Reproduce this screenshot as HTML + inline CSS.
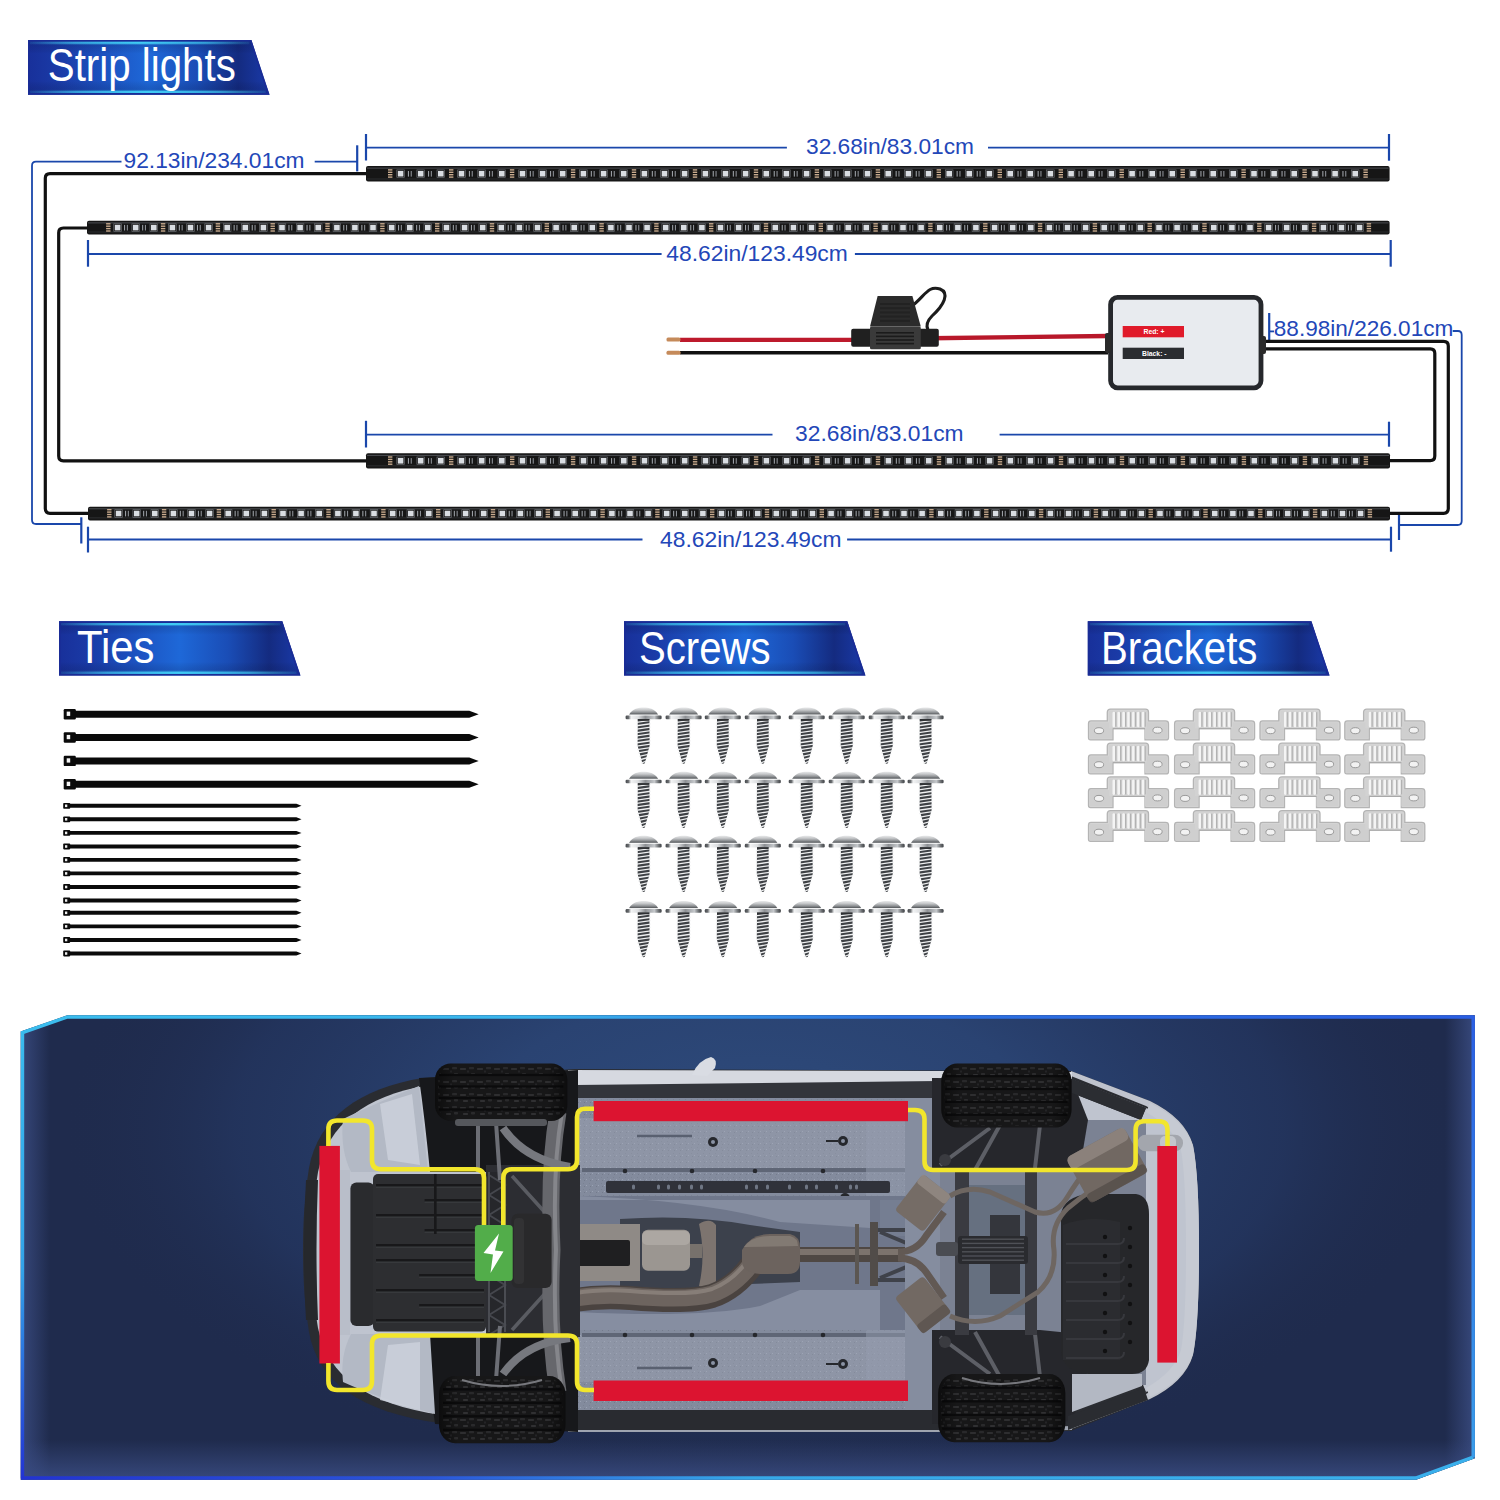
<!DOCTYPE html>
<html><head><meta charset="utf-8">
<style>
html,body{margin:0;padding:0;background:#fff;width:1500px;height:1500px;overflow:hidden}
svg{display:block;font-family:"Liberation Sans",sans-serif}
</style></head><body>
<svg width="1500" height="1500" viewBox="0 0 1500 1500">
<defs>
  <linearGradient id="banH" x1="0" y1="0" x2="1" y2="0">
    <stop offset="0" stop-color="#18309a"/>
    <stop offset="0.12" stop-color="#1a3aa6"/>
    <stop offset="0.5" stop-color="#1e68d8"/>
    <stop offset="0.7" stop-color="#1a4db6"/>
    <stop offset="0.87" stop-color="#142b80"/>
    <stop offset="1" stop-color="#1a3aaa"/>
  </linearGradient>
  <linearGradient id="banGlow" x1="0" y1="0" x2="1" y2="0">
    <stop offset="0" stop-color="#40ccf4" stop-opacity="0.1"/>
    <stop offset="0.2" stop-color="#40ccf4" stop-opacity="0.6"/>
    <stop offset="0.5" stop-color="#40ccf4" stop-opacity="1"/>
    <stop offset="0.8" stop-color="#40ccf4" stop-opacity="0.6"/>
    <stop offset="1" stop-color="#40ccf4" stop-opacity="0.1"/>
  </linearGradient>
  <linearGradient id="banV" x1="0" y1="0" x2="0" y2="1">
    <stop offset="0" stop-color="#0a1a60" stop-opacity="0.25"/>
    <stop offset="0.25" stop-color="#000" stop-opacity="0"/>
    <stop offset="0.75" stop-color="#000" stop-opacity="0"/>
    <stop offset="1" stop-color="#0a1a60" stop-opacity="0.25"/>
  </linearGradient>

  <linearGradient id="domeG" x1="0" y1="0" x2="0" y2="1">
    <stop offset="0" stop-color="#e8e9ea"/><stop offset="0.35" stop-color="#c4c6c8"/><stop offset="0.7" stop-color="#8a8d90"/><stop offset="0.9" stop-color="#5f6265"/><stop offset="1" stop-color="#b8bbbe"/>
  </linearGradient>
  <linearGradient id="flG" x1="0" y1="0" x2="1" y2="0">
    <stop offset="0" stop-color="#45484c"/><stop offset="0.08" stop-color="#6a6d70"/><stop offset="0.15" stop-color="#f2f3f4"/><stop offset="0.35" stop-color="#dcdee0"/><stop offset="0.55" stop-color="#8d9094"/><stop offset="0.8" stop-color="#c5c8cb"/><stop offset="0.92" stop-color="#6a6d70"/><stop offset="1" stop-color="#3f4246"/>
  </linearGradient>

  <radialGradient id="panRad" cx="760" cy="1150" r="720" gradientUnits="userSpaceOnUse" gradientTransform="translate(760 1150) scale(1 0.55) translate(-760 -1150)">
    <stop offset="0" stop-color="#2e4c7e"/>
    <stop offset="0.45" stop-color="#2a4372"/>
    <stop offset="0.8" stop-color="#213259"/>
    <stop offset="1" stop-color="#1e2949" stop-opacity="0"/>
  </radialGradient>
  <clipPath id="panClip"><polygon points="20.8,1031.5 67.2,1015.3 1474.8,1015.3 1474.8,1458.3 1416,1479.8 20.8,1479.8"/></clipPath>
  <filter id="blur12" x="-10%" y="-10%" width="120%" height="120%"><feGaussianBlur stdDeviation="12"/></filter>
  <filter id="blur2" x="-10%" y="-10%" width="120%" height="120%"><feGaussianBlur stdDeviation="2"/></filter>
  <filter id="blur1"><feGaussianBlur stdDeviation="0.8"/></filter>
  <linearGradient id="bodyG" x1="0" y1="0" x2="0" y2="1">
    <stop offset="0" stop-color="#e6e9ef"/><stop offset="0.5" stop-color="#c9ced8"/><stop offset="1" stop-color="#b7bcc8"/>
  </linearGradient>
  <linearGradient id="tireG" x1="0" y1="0" x2="0" y2="1">
    <stop offset="0" stop-color="#2a2a2c"/><stop offset="0.5" stop-color="#1a1a1b"/><stop offset="1" stop-color="#222224"/>
  </linearGradient>
  <pattern id="tread" width="9" height="7" patternUnits="userSpaceOnUse">
    <rect width="9" height="7" fill="#1b1b1c"/>
    <rect x="0" y="0" width="9" height="1.3" fill="#0c0c0c"/>
    <rect x="2" y="2.5" width="3" height="2" fill="#333336"/>
    <rect x="6" y="4.2" width="2" height="1.5" fill="#2a2a2d"/>
  </pattern>
  <pattern id="speck" width="6" height="6" patternUnits="userSpaceOnUse">
    <rect width="6" height="6" fill="#838b9d"/>
    <rect x="1" y="1" width="1" height="1" fill="#7a8293"/>
    <rect x="4" y="3" width="1" height="1" fill="#9aa2b3"/>
    <rect x="2" y="4" width="1" height="1" fill="#747b8c"/>
  </pattern>
  <linearGradient id="pipeG" x1="0" y1="0" x2="0" y2="1">
    <stop offset="0" stop-color="#8a817b"/><stop offset="0.5" stop-color="#6c635e"/><stop offset="1" stop-color="#4c4542"/>
  </linearGradient>

  <pattern id="treadTex" width="17" height="13" patternUnits="userSpaceOnUse">
    <rect x="1" y="2" width="6" height="2" rx="0.8" fill="#2e2e30"/>
    <rect x="10" y="1" width="5" height="2.2" rx="0.8" fill="#29292b"/>
    <rect x="4" y="8" width="5" height="2" rx="0.8" fill="#303032"/>
    <rect x="12" y="7" width="4" height="2.4" rx="0.8" fill="#2a2a2c"/>
    <rect x="8" y="4.5" width="2" height="2" fill="#242426"/>
  </pattern>
  <linearGradient id="tireShade" x1="0" y1="0" x2="1" y2="0">
    <stop offset="0" stop-color="#000" stop-opacity="0.45"/><stop offset="0.15" stop-color="#000" stop-opacity="0"/><stop offset="0.85" stop-color="#000" stop-opacity="0"/><stop offset="1" stop-color="#000" stop-opacity="0.45"/>
  </linearGradient>

  <radialGradient id="panRad2" cx="760" cy="1130" r="700" gradientUnits="userSpaceOnUse" gradientTransform="translate(760 1130) scale(1 0.5) translate(-760 -1130)">
    <stop offset="0" stop-color="#2e4b7c"/>
    <stop offset="0.4" stop-color="#2a4372"/>
    <stop offset="0.75" stop-color="#243762" stop-opacity="0.7"/>
    <stop offset="1" stop-color="#1f2b4d" stop-opacity="0"/>
  </radialGradient>
  <linearGradient id="glowL" x1="0" y1="0" x2="1" y2="0"><stop offset="0" stop-color="#3a4c82" stop-opacity="0.9"/><stop offset="1" stop-color="#3a4c82" stop-opacity="0"/></linearGradient>
  <linearGradient id="glowR" x1="1" y1="0" x2="0" y2="0"><stop offset="0" stop-color="#3a4c82" stop-opacity="0.9"/><stop offset="1" stop-color="#3a4c82" stop-opacity="0"/></linearGradient>
  <linearGradient id="glowB" x1="0" y1="1" x2="0" y2="0"><stop offset="0" stop-color="#3a4c82" stop-opacity="0.9"/><stop offset="1" stop-color="#3a4c82" stop-opacity="0"/></linearGradient>
  <linearGradient id="bTop" x1="20" y1="0" x2="1475" y2="0" gradientUnits="userSpaceOnUse"><stop offset="0" stop-color="#3bbdee"/><stop offset="0.35" stop-color="#3ab5ec"/><stop offset="0.6" stop-color="#2d72e0"/><stop offset="1" stop-color="#2a5ee2"/></linearGradient>
  <linearGradient id="bLeft" x1="0" y1="1015" x2="0" y2="1480" gradientUnits="userSpaceOnUse"><stop offset="0" stop-color="#3bbdee"/><stop offset="0.55" stop-color="#33a2e8"/><stop offset="1" stop-color="#2233d2"/></linearGradient>
  <linearGradient id="bBot" x1="20" y1="0" x2="1475" y2="0" gradientUnits="userSpaceOnUse"><stop offset="0" stop-color="#2233d2"/><stop offset="0.28" stop-color="#2a55da"/><stop offset="0.5" stop-color="#36a8e8"/><stop offset="1" stop-color="#3ab0ec"/></linearGradient>
  <linearGradient id="bRight" x1="0" y1="1015" x2="0" y2="1480" gradientUnits="userSpaceOnUse"><stop offset="0" stop-color="#2a5ee2"/><stop offset="1" stop-color="#3aa0ea"/></linearGradient>
<symbol id="screw" overflow="visible">
<path d="M-14.6,7 C-11,0.8 -5,-0.2 0,-0.2 C5,-0.2 11,0.8 14.6,7 Z" fill="url(#domeG)"/>
<rect x="-18" y="7.8" width="36" height="3.6" rx="1.2" fill="url(#flG)"/>
<path d="M-5.8,11.3 H5.8 L6,38 L1.2,55.5 L0,56 L-1.2,55.5 L-6,38 Z" fill="#3e4145"/>
<path d="M-7.0,13.9 L7.0,11.9 L7.0,13.2 L-7.0,15.2 Z" fill="#f0f1f2"/>
<path d="M-7.0,17.3 L7.0,15.3 L7.0,16.6 L-7.0,18.6 Z" fill="#f0f1f2"/>
<path d="M-7.0,20.7 L7.0,18.7 L7.0,20.0 L-7.0,22.0 Z" fill="#f0f1f2"/>
<path d="M-7.0,24.1 L7.0,22.1 L7.0,23.4 L-7.0,25.4 Z" fill="#f0f1f2"/>
<path d="M-7.0,27.5 L7.0,25.5 L7.0,26.8 L-7.0,28.8 Z" fill="#f0f1f2"/>
<path d="M-7.0,30.9 L7.0,28.9 L7.0,30.2 L-7.0,32.2 Z" fill="#f0f1f2"/>
<path d="M-7.0,34.3 L7.0,32.3 L7.0,33.6 L-7.0,35.6 Z" fill="#f0f1f2"/>
<path d="M-7.0,37.7 L7.0,35.7 L7.0,37.0 L-7.0,39.0 Z" fill="#f0f1f2"/>
<path d="M-6.5,41.1 L6.5,39.1 L6.5,40.4 L-6.5,42.4 Z" fill="#f0f1f2"/>
<path d="M-5.5,44.5 L5.5,42.5 L5.5,43.8 L-5.5,45.8 Z" fill="#f0f1f2"/>
<path d="M-4.5,47.9 L4.5,45.9 L4.5,47.2 L-4.5,49.2 Z" fill="#f0f1f2"/>
<path d="M-3.5,51.3 L3.5,49.3 L3.5,50.6 L-3.5,52.6 Z" fill="#f0f1f2"/>
<path d="M-2.5,54.7 L2.5,52.7 L2.5,54.0 L-2.5,56.0 Z" fill="#f0f1f2"/>
<path d="M-5.8,11.3 H5.8 V13 H-5.8 Z" fill="#2e3033"/>
</symbol><symbol id="brk" overflow="visible">
<path d="M0.5,14.5 Q0.5,11.7 3,11.7 H19.3 V3 Q19.3,0 22.5,0 H57.5 Q60.5,0 60.5,3 V11.7 H77.5 Q80.5,11.7 80.5,14.5 V28.5 Q80.5,30.7 78,30.7 H57 V19.5 H25 V30.7 H2.5 Q0.5,30.7 0.5,28.5 Z" fill="#d6d6d6" stroke="#b4b4b4" stroke-width="1.3"/>
<path d="M2,13 H24 V29.5 H2 Z M57,13 H79 V29.5 H57 Z" fill="#cfcfcf"/>
<path d="M21,1.5 H59 V19 H21 Z" fill="#d2d2d2"/>
<rect x="24.5" y="2.5" width="2.6" height="15.5" rx="1.3" fill="#f4f4f4"/>
<rect x="27.2" y="3" width="1.2" height="14.5" fill="#b2b2b2"/>
<rect x="29.4" y="2.5" width="2.6" height="15.5" rx="1.3" fill="#f4f4f4"/>
<rect x="32.1" y="3" width="1.2" height="14.5" fill="#b2b2b2"/>
<rect x="34.3" y="2.5" width="2.6" height="15.5" rx="1.3" fill="#f4f4f4"/>
<rect x="37.0" y="3" width="1.2" height="14.5" fill="#b2b2b2"/>
<rect x="39.2" y="2.5" width="2.6" height="15.5" rx="1.3" fill="#f4f4f4"/>
<rect x="41.9" y="3" width="1.2" height="14.5" fill="#b2b2b2"/>
<rect x="44.1" y="2.5" width="2.6" height="15.5" rx="1.3" fill="#f4f4f4"/>
<rect x="46.8" y="3" width="1.2" height="14.5" fill="#b2b2b2"/>
<rect x="49.0" y="2.5" width="2.6" height="15.5" rx="1.3" fill="#f4f4f4"/>
<rect x="51.7" y="3" width="1.2" height="14.5" fill="#b2b2b2"/>
<rect x="53.9" y="2.5" width="2.6" height="15.5" rx="1.3" fill="#f4f4f4"/>
<rect x="56.6" y="3" width="1.2" height="14.5" fill="#b2b2b2"/>
<path d="M25,19.5 H57" stroke="#a8a8a8" stroke-width="1"/>
<ellipse cx="11" cy="21.5" rx="4.6" ry="3" fill="#f2f2f2" stroke="#9a9a9a" stroke-width="1"/>
<ellipse cx="69.5" cy="21" rx="4.6" ry="3" fill="#f2f2f2" stroke="#9a9a9a" stroke-width="1"/>
</symbol>
</defs>
<rect width="1500" height="1500" fill="#fff"/>
<polygon points="28,40 251.4,40 269.6,94.7 28,94.7" fill="url(#banH)"/>
<polygon points="28,40 251.4,40 269.6,94.7 28,94.7" fill="url(#banV)"/>
<rect x="30" y="41.6" width="219.4" height="2.2" fill="url(#banGlow)"/>
<rect x="30" y="40.8" width="219.4" height="4" fill="url(#banGlow)" opacity="0.35"/>
<rect x="30" y="90.9" width="235.60000000000002" height="2.2" fill="url(#banGlow)"/>
<rect x="30" y="89.9" width="235.60000000000002" height="4" fill="url(#banGlow)" opacity="0.35"/>
<polygon points="28.8,40.8 250.8,40.8 268.3,93.9 28.8,93.9" fill="none" stroke="#1a2c96" stroke-width="1.6"/>
<text x="47.8" y="80.6" font-size="46.5" fill="#fff" textLength="188" lengthAdjust="spacingAndGlyphs">Strip lights</text>
<polygon points="59,621.3 282.3,621.3 300.5,675.5 59,675.5" fill="url(#banH)"/>
<polygon points="59,621.3 282.3,621.3 300.5,675.5 59,675.5" fill="url(#banV)"/>
<rect x="61" y="622.9" width="219.3" height="2.2" fill="url(#banGlow)"/>
<rect x="61" y="622.0999999999999" width="219.3" height="4" fill="url(#banGlow)" opacity="0.35"/>
<rect x="61" y="671.7" width="235.5" height="2.2" fill="url(#banGlow)"/>
<rect x="61" y="670.7" width="235.5" height="4" fill="url(#banGlow)" opacity="0.35"/>
<polygon points="59.8,622.0999999999999 281.7,622.0999999999999 299.2,674.7 59.8,674.7" fill="none" stroke="#1a2c96" stroke-width="1.6"/>
<text x="77" y="663.4" font-size="45.5" fill="#fff" textLength="77.5" lengthAdjust="spacingAndGlyphs">Ties</text>
<polygon points="624,621.3 847.3,621.3 865.5,675.5 624,675.5" fill="url(#banH)"/>
<polygon points="624,621.3 847.3,621.3 865.5,675.5 624,675.5" fill="url(#banV)"/>
<rect x="626" y="622.9" width="219.29999999999995" height="2.2" fill="url(#banGlow)"/>
<rect x="626" y="622.0999999999999" width="219.29999999999995" height="4" fill="url(#banGlow)" opacity="0.35"/>
<rect x="626" y="671.7" width="235.5" height="2.2" fill="url(#banGlow)"/>
<rect x="626" y="670.7" width="235.5" height="4" fill="url(#banGlow)" opacity="0.35"/>
<polygon points="624.8,622.0999999999999 846.6999999999999,622.0999999999999 864.2,674.7 624.8,674.7" fill="none" stroke="#1a2c96" stroke-width="1.6"/>
<text x="639" y="664.2" font-size="45.5" fill="#fff" textLength="131.5" lengthAdjust="spacingAndGlyphs">Screws</text>
<polygon points="1087.8,621.3 1311.4,621.3 1329.6,675.5 1087.8,675.5" fill="url(#banH)"/>
<polygon points="1087.8,621.3 1311.4,621.3 1329.6,675.5 1087.8,675.5" fill="url(#banV)"/>
<rect x="1089.8" y="622.9" width="219.60000000000014" height="2.2" fill="url(#banGlow)"/>
<rect x="1089.8" y="622.0999999999999" width="219.60000000000014" height="4" fill="url(#banGlow)" opacity="0.35"/>
<rect x="1089.8" y="671.7" width="235.79999999999995" height="2.2" fill="url(#banGlow)"/>
<rect x="1089.8" y="670.7" width="235.79999999999995" height="4" fill="url(#banGlow)" opacity="0.35"/>
<polygon points="1088.6,622.0999999999999 1310.8000000000002,622.0999999999999 1328.3,674.7 1088.6,674.7" fill="none" stroke="#1a2c96" stroke-width="1.6"/>
<text x="1101" y="664.2" font-size="45.5" fill="#fff" textLength="156.5" lengthAdjust="spacingAndGlyphs">Brackets</text>
<path d="M121.5,161.7 H36 Q32,161.7 32,165.7 V520 Q32,524 36,524 H81.3" fill="none" stroke="#1a47ab" stroke-width="1.8"/>
<path d="M81.3,517.3 V543.5" fill="none" stroke="#1a47ab" stroke-width="2.2"/>
<path d="M314.7,161.7 H357.2" fill="none" stroke="#1a47ab" stroke-width="1.8"/>
<path d="M357.2,145.3 V171.4" fill="none" stroke="#1a47ab" stroke-width="2.2"/>
<text x="123.5" y="167.8" font-size="22" fill="#2347b8" textLength="181" lengthAdjust="spacingAndGlyphs">92.13in/234.01cm</text>
<path d="M366,147.7 H786.9" fill="none" stroke="#1a47ab" stroke-width="1.8"/>
<path d="M988,147.7 H1389" fill="none" stroke="#1a47ab" stroke-width="1.8"/>
<path d="M366,134 V160.5" fill="none" stroke="#1a47ab" stroke-width="2.2"/>
<path d="M1389,134 V160.7" fill="none" stroke="#1a47ab" stroke-width="2.2"/>
<text x="806" y="154.3" font-size="22" fill="#2347b8" textLength="168" lengthAdjust="spacingAndGlyphs">32.68in/83.01cm</text>
<path d="M88,254 H661.6" fill="none" stroke="#1a47ab" stroke-width="1.8"/>
<path d="M854.9,254 H1390.7" fill="none" stroke="#1a47ab" stroke-width="1.8"/>
<path d="M88,240 V266.7" fill="none" stroke="#1a47ab" stroke-width="2.2"/>
<path d="M1390.7,240 V266.7" fill="none" stroke="#1a47ab" stroke-width="2.2"/>
<text x="666.3" y="260.5" font-size="22" fill="#2347b8" textLength="181.5" lengthAdjust="spacingAndGlyphs">48.62in/123.49cm</text>
<path d="M366,434.7 H772.5" fill="none" stroke="#1a47ab" stroke-width="1.8"/>
<path d="M999.6,434.7 H1389" fill="none" stroke="#1a47ab" stroke-width="1.8"/>
<path d="M366,420.8 V447.5" fill="none" stroke="#1a47ab" stroke-width="2.2"/>
<path d="M1389,421.7 V446.7" fill="none" stroke="#1a47ab" stroke-width="2.2"/>
<text x="795.1" y="441.4" font-size="22" fill="#2347b8" textLength="168.5" lengthAdjust="spacingAndGlyphs">32.68in/83.01cm</text>
<path d="M88,539.5 H642.5" fill="none" stroke="#1a47ab" stroke-width="1.8"/>
<path d="M847.1,539.5 H1391" fill="none" stroke="#1a47ab" stroke-width="1.8"/>
<path d="M88,526.7 V552.5" fill="none" stroke="#1a47ab" stroke-width="2.2"/>
<path d="M1391,526.7 V551.7" fill="none" stroke="#1a47ab" stroke-width="2.2"/>
<text x="660" y="547.3" font-size="22" fill="#2347b8" textLength="181.5" lengthAdjust="spacingAndGlyphs">48.62in/123.49cm</text>
<path d="M1269.2,313 V340.6" fill="none" stroke="#1a47ab" stroke-width="2.2"/>
<path d="M1269.2,331.4 H1274" fill="none" stroke="#1a47ab" stroke-width="1.8"/>
<path d="M1452.7,331 H1458 Q1461.7,331 1461.7,335 V521 Q1461.7,525 1457.7,525 H1399" fill="none" stroke="#1a47ab" stroke-width="1.8"/>
<path d="M1399,515 V540" fill="none" stroke="#1a47ab" stroke-width="2.2"/>
<text x="1273.8" y="336" font-size="22" fill="#2347b8" textLength="179.5" lengthAdjust="spacingAndGlyphs">88.98in/226.01cm</text>
<path d="M366,173.6 H50 Q45.3,173.6 45.3,178.3 V508.6 Q45.3,513.3 50,513.3 H88" fill="none" stroke="#111" stroke-width="3.2" stroke-linejoin="round"/>
<path d="M87,228 H63.4 Q58.7,228 58.7,232.7 V456 Q58.7,460.8 63.4,460.8 H366" fill="none" stroke="#111" stroke-width="3.2" stroke-linejoin="round"/>
<path d="M1390,513.3 H1443.6 Q1448.3,513.3 1448.3,508.6 V346 Q1448.3,341.4 1443.6,341.4 H1262" fill="none" stroke="#111" stroke-width="3.2" stroke-linejoin="round"/>
<path d="M1390,460.6 H1430.3 Q1434.8,460.6 1434.8,456 V353.3 Q1434.8,348.8 1430.3,348.8 H1262" fill="none" stroke="#111" stroke-width="3.2" stroke-linejoin="round"/>
<path d="M680,339.8 H860" fill="none" stroke="#bd1a2c" stroke-width="4.2" stroke-linejoin="round"/>
<path d="M930,338.2 L1108,336" fill="none" stroke="#b8182a" stroke-width="4.4" stroke-linejoin="round"/>
<path d="M680,352.8 H1108" fill="none" stroke="#111" stroke-width="3.4" stroke-linejoin="round"/>
<rect x="666.5" y="337.6" width="14" height="4" rx="1.5" fill="#c58a5a"/>
<rect x="666.5" y="350.8" width="14" height="4" rx="1.5" fill="#c58a5a"/>
<rect x="366" y="166" width="1023.5999999999999" height="15.599999999999994" rx="2" fill="#161616"/>
<rect x="367" y="167.6" width="1021.5999999999999" height="1" fill="#5a5d62" opacity="0.8"/>
<rect x="367" y="178.6" width="1021.5999999999999" height="0.8" fill="#3a3c40" opacity="0.8"/>
<rect x="388.0" y="169.2" width="4.4" height="1.4" fill="#c9ab8e"/>
<rect x="388.0" y="171.6" width="4.4" height="1.4" fill="#c9ab8e"/>
<rect x="388.0" y="174.0" width="4.4" height="1.4" fill="#c9ab8e"/>
<rect x="388.0" y="176.4" width="4.4" height="1.4" fill="#c9ab8e"/>
<rect x="397.8" y="170.9" width="5.6" height="5.6" fill="#d9dde2"/>
<rect x="396.8" y="169.9" width="7.6" height="7.6" fill="none" stroke="#777b80" stroke-width="0.6"/>
<rect x="407.9" y="171.0" width="1.1" height="5.6" fill="#9a9ea4"/>
<rect x="410.7" y="171.0" width="1.1" height="5.6" fill="#8a8e94"/>
<rect x="417.9" y="170.9" width="5.6" height="5.6" fill="#d9dde2"/>
<rect x="416.9" y="169.9" width="7.6" height="7.6" fill="none" stroke="#777b80" stroke-width="0.6"/>
<rect x="428.0" y="171.0" width="1.1" height="5.6" fill="#9a9ea4"/>
<rect x="430.8" y="171.0" width="1.1" height="5.6" fill="#8a8e94"/>
<rect x="438.0" y="170.9" width="5.6" height="5.6" fill="#d9dde2"/>
<rect x="437.0" y="169.9" width="7.6" height="7.6" fill="none" stroke="#777b80" stroke-width="0.6"/>
<rect x="449.0" y="169.2" width="4.4" height="1.4" fill="#c9ab8e"/>
<rect x="449.0" y="171.6" width="4.4" height="1.4" fill="#c9ab8e"/>
<rect x="449.0" y="174.0" width="4.4" height="1.4" fill="#c9ab8e"/>
<rect x="449.0" y="176.4" width="4.4" height="1.4" fill="#c9ab8e"/>
<rect x="458.7" y="170.9" width="5.6" height="5.6" fill="#d9dde2"/>
<rect x="457.7" y="169.9" width="7.6" height="7.6" fill="none" stroke="#777b80" stroke-width="0.6"/>
<rect x="468.9" y="171.0" width="1.1" height="5.6" fill="#9a9ea4"/>
<rect x="471.7" y="171.0" width="1.1" height="5.6" fill="#8a8e94"/>
<rect x="478.8" y="170.9" width="5.6" height="5.6" fill="#d9dde2"/>
<rect x="477.8" y="169.9" width="7.6" height="7.6" fill="none" stroke="#777b80" stroke-width="0.6"/>
<rect x="489.0" y="171.0" width="1.1" height="5.6" fill="#9a9ea4"/>
<rect x="491.8" y="171.0" width="1.1" height="5.6" fill="#8a8e94"/>
<rect x="499.0" y="170.9" width="5.6" height="5.6" fill="#d9dde2"/>
<rect x="498.0" y="169.9" width="7.6" height="7.6" fill="none" stroke="#777b80" stroke-width="0.6"/>
<rect x="509.9" y="169.2" width="4.4" height="1.4" fill="#c9ab8e"/>
<rect x="509.9" y="171.6" width="4.4" height="1.4" fill="#c9ab8e"/>
<rect x="509.9" y="174.0" width="4.4" height="1.4" fill="#c9ab8e"/>
<rect x="509.9" y="176.4" width="4.4" height="1.4" fill="#c9ab8e"/>
<rect x="519.7" y="170.9" width="5.6" height="5.6" fill="#d9dde2"/>
<rect x="518.7" y="169.9" width="7.6" height="7.6" fill="none" stroke="#777b80" stroke-width="0.6"/>
<rect x="529.8" y="171.0" width="1.1" height="5.6" fill="#9a9ea4"/>
<rect x="532.6" y="171.0" width="1.1" height="5.6" fill="#8a8e94"/>
<rect x="539.8" y="170.9" width="5.6" height="5.6" fill="#d9dde2"/>
<rect x="538.8" y="169.9" width="7.6" height="7.6" fill="none" stroke="#777b80" stroke-width="0.6"/>
<rect x="550.0" y="171.0" width="1.1" height="5.6" fill="#9a9ea4"/>
<rect x="552.8" y="171.0" width="1.1" height="5.6" fill="#8a8e94"/>
<rect x="559.9" y="170.9" width="5.6" height="5.6" fill="#d9dde2"/>
<rect x="558.9" y="169.9" width="7.6" height="7.6" fill="none" stroke="#777b80" stroke-width="0.6"/>
<rect x="570.9" y="169.2" width="4.4" height="1.4" fill="#c9ab8e"/>
<rect x="570.9" y="171.6" width="4.4" height="1.4" fill="#c9ab8e"/>
<rect x="570.9" y="174.0" width="4.4" height="1.4" fill="#c9ab8e"/>
<rect x="570.9" y="176.4" width="4.4" height="1.4" fill="#c9ab8e"/>
<rect x="580.6" y="170.9" width="5.6" height="5.6" fill="#d9dde2"/>
<rect x="579.6" y="169.9" width="7.6" height="7.6" fill="none" stroke="#777b80" stroke-width="0.6"/>
<rect x="590.8" y="171.0" width="1.1" height="5.6" fill="#9a9ea4"/>
<rect x="593.6" y="171.0" width="1.1" height="5.6" fill="#8a8e94"/>
<rect x="600.8" y="170.9" width="5.6" height="5.6" fill="#d9dde2"/>
<rect x="599.8" y="169.9" width="7.6" height="7.6" fill="none" stroke="#777b80" stroke-width="0.6"/>
<rect x="610.9" y="171.0" width="1.1" height="5.6" fill="#9a9ea4"/>
<rect x="613.7" y="171.0" width="1.1" height="5.6" fill="#8a8e94"/>
<rect x="620.9" y="170.9" width="5.6" height="5.6" fill="#d9dde2"/>
<rect x="619.9" y="169.9" width="7.6" height="7.6" fill="none" stroke="#777b80" stroke-width="0.6"/>
<rect x="631.8" y="169.2" width="4.4" height="1.4" fill="#c9ab8e"/>
<rect x="631.8" y="171.6" width="4.4" height="1.4" fill="#c9ab8e"/>
<rect x="631.8" y="174.0" width="4.4" height="1.4" fill="#c9ab8e"/>
<rect x="631.8" y="176.4" width="4.4" height="1.4" fill="#c9ab8e"/>
<rect x="641.6" y="170.9" width="5.6" height="5.6" fill="#d9dde2"/>
<rect x="640.6" y="169.9" width="7.6" height="7.6" fill="none" stroke="#777b80" stroke-width="0.6"/>
<rect x="651.8" y="171.0" width="1.1" height="5.6" fill="#9a9ea4"/>
<rect x="654.6" y="171.0" width="1.1" height="5.6" fill="#8a8e94"/>
<rect x="661.7" y="170.9" width="5.6" height="5.6" fill="#d9dde2"/>
<rect x="660.7" y="169.9" width="7.6" height="7.6" fill="none" stroke="#777b80" stroke-width="0.6"/>
<rect x="671.9" y="171.0" width="1.1" height="5.6" fill="#9a9ea4"/>
<rect x="674.7" y="171.0" width="1.1" height="5.6" fill="#8a8e94"/>
<rect x="681.8" y="170.9" width="5.6" height="5.6" fill="#d9dde2"/>
<rect x="680.8" y="169.9" width="7.6" height="7.6" fill="none" stroke="#777b80" stroke-width="0.6"/>
<rect x="692.8" y="169.2" width="4.4" height="1.4" fill="#c9ab8e"/>
<rect x="692.8" y="171.6" width="4.4" height="1.4" fill="#c9ab8e"/>
<rect x="692.8" y="174.0" width="4.4" height="1.4" fill="#c9ab8e"/>
<rect x="692.8" y="176.4" width="4.4" height="1.4" fill="#c9ab8e"/>
<rect x="702.6" y="170.9" width="5.6" height="5.6" fill="#d9dde2"/>
<rect x="701.6" y="169.9" width="7.6" height="7.6" fill="none" stroke="#777b80" stroke-width="0.6"/>
<rect x="712.7" y="171.0" width="1.1" height="5.6" fill="#9a9ea4"/>
<rect x="715.5" y="171.0" width="1.1" height="5.6" fill="#8a8e94"/>
<rect x="722.7" y="170.9" width="5.6" height="5.6" fill="#d9dde2"/>
<rect x="721.7" y="169.9" width="7.6" height="7.6" fill="none" stroke="#777b80" stroke-width="0.6"/>
<rect x="732.8" y="171.0" width="1.1" height="5.6" fill="#9a9ea4"/>
<rect x="735.6" y="171.0" width="1.1" height="5.6" fill="#8a8e94"/>
<rect x="742.8" y="170.9" width="5.6" height="5.6" fill="#d9dde2"/>
<rect x="741.8" y="169.9" width="7.6" height="7.6" fill="none" stroke="#777b80" stroke-width="0.6"/>
<rect x="753.8" y="169.2" width="4.4" height="1.4" fill="#c9ab8e"/>
<rect x="753.8" y="171.6" width="4.4" height="1.4" fill="#c9ab8e"/>
<rect x="753.8" y="174.0" width="4.4" height="1.4" fill="#c9ab8e"/>
<rect x="753.8" y="176.4" width="4.4" height="1.4" fill="#c9ab8e"/>
<rect x="763.5" y="170.9" width="5.6" height="5.6" fill="#d9dde2"/>
<rect x="762.5" y="169.9" width="7.6" height="7.6" fill="none" stroke="#777b80" stroke-width="0.6"/>
<rect x="773.7" y="171.0" width="1.1" height="5.6" fill="#9a9ea4"/>
<rect x="776.5" y="171.0" width="1.1" height="5.6" fill="#8a8e94"/>
<rect x="783.6" y="170.9" width="5.6" height="5.6" fill="#d9dde2"/>
<rect x="782.6" y="169.9" width="7.6" height="7.6" fill="none" stroke="#777b80" stroke-width="0.6"/>
<rect x="793.8" y="171.0" width="1.1" height="5.6" fill="#9a9ea4"/>
<rect x="796.6" y="171.0" width="1.1" height="5.6" fill="#8a8e94"/>
<rect x="803.8" y="170.9" width="5.6" height="5.6" fill="#d9dde2"/>
<rect x="802.8" y="169.9" width="7.6" height="7.6" fill="none" stroke="#777b80" stroke-width="0.6"/>
<rect x="814.7" y="169.2" width="4.4" height="1.4" fill="#c9ab8e"/>
<rect x="814.7" y="171.6" width="4.4" height="1.4" fill="#c9ab8e"/>
<rect x="814.7" y="174.0" width="4.4" height="1.4" fill="#c9ab8e"/>
<rect x="814.7" y="176.4" width="4.4" height="1.4" fill="#c9ab8e"/>
<rect x="824.5" y="170.9" width="5.6" height="5.6" fill="#d9dde2"/>
<rect x="823.5" y="169.9" width="7.6" height="7.6" fill="none" stroke="#777b80" stroke-width="0.6"/>
<rect x="834.6" y="171.0" width="1.1" height="5.6" fill="#9a9ea4"/>
<rect x="837.4" y="171.0" width="1.1" height="5.6" fill="#8a8e94"/>
<rect x="844.6" y="170.9" width="5.6" height="5.6" fill="#d9dde2"/>
<rect x="843.6" y="169.9" width="7.6" height="7.6" fill="none" stroke="#777b80" stroke-width="0.6"/>
<rect x="854.8" y="171.0" width="1.1" height="5.6" fill="#9a9ea4"/>
<rect x="857.6" y="171.0" width="1.1" height="5.6" fill="#8a8e94"/>
<rect x="864.7" y="170.9" width="5.6" height="5.6" fill="#d9dde2"/>
<rect x="863.7" y="169.9" width="7.6" height="7.6" fill="none" stroke="#777b80" stroke-width="0.6"/>
<rect x="875.7" y="169.2" width="4.4" height="1.4" fill="#c9ab8e"/>
<rect x="875.7" y="171.6" width="4.4" height="1.4" fill="#c9ab8e"/>
<rect x="875.7" y="174.0" width="4.4" height="1.4" fill="#c9ab8e"/>
<rect x="875.7" y="176.4" width="4.4" height="1.4" fill="#c9ab8e"/>
<rect x="885.4" y="170.9" width="5.6" height="5.6" fill="#d9dde2"/>
<rect x="884.4" y="169.9" width="7.6" height="7.6" fill="none" stroke="#777b80" stroke-width="0.6"/>
<rect x="895.6" y="171.0" width="1.1" height="5.6" fill="#9a9ea4"/>
<rect x="898.4" y="171.0" width="1.1" height="5.6" fill="#8a8e94"/>
<rect x="905.6" y="170.9" width="5.6" height="5.6" fill="#d9dde2"/>
<rect x="904.6" y="169.9" width="7.6" height="7.6" fill="none" stroke="#777b80" stroke-width="0.6"/>
<rect x="915.7" y="171.0" width="1.1" height="5.6" fill="#9a9ea4"/>
<rect x="918.5" y="171.0" width="1.1" height="5.6" fill="#8a8e94"/>
<rect x="925.7" y="170.9" width="5.6" height="5.6" fill="#d9dde2"/>
<rect x="924.7" y="169.9" width="7.6" height="7.6" fill="none" stroke="#777b80" stroke-width="0.6"/>
<rect x="936.6" y="169.2" width="4.4" height="1.4" fill="#c9ab8e"/>
<rect x="936.6" y="171.6" width="4.4" height="1.4" fill="#c9ab8e"/>
<rect x="936.6" y="174.0" width="4.4" height="1.4" fill="#c9ab8e"/>
<rect x="936.6" y="176.4" width="4.4" height="1.4" fill="#c9ab8e"/>
<rect x="946.4" y="170.9" width="5.6" height="5.6" fill="#d9dde2"/>
<rect x="945.4" y="169.9" width="7.6" height="7.6" fill="none" stroke="#777b80" stroke-width="0.6"/>
<rect x="956.6" y="171.0" width="1.1" height="5.6" fill="#9a9ea4"/>
<rect x="959.4" y="171.0" width="1.1" height="5.6" fill="#8a8e94"/>
<rect x="966.5" y="170.9" width="5.6" height="5.6" fill="#d9dde2"/>
<rect x="965.5" y="169.9" width="7.6" height="7.6" fill="none" stroke="#777b80" stroke-width="0.6"/>
<rect x="976.7" y="171.0" width="1.1" height="5.6" fill="#9a9ea4"/>
<rect x="979.5" y="171.0" width="1.1" height="5.6" fill="#8a8e94"/>
<rect x="986.6" y="170.9" width="5.6" height="5.6" fill="#d9dde2"/>
<rect x="985.6" y="169.9" width="7.6" height="7.6" fill="none" stroke="#777b80" stroke-width="0.6"/>
<rect x="997.6" y="169.2" width="4.4" height="1.4" fill="#c9ab8e"/>
<rect x="997.6" y="171.6" width="4.4" height="1.4" fill="#c9ab8e"/>
<rect x="997.6" y="174.0" width="4.4" height="1.4" fill="#c9ab8e"/>
<rect x="997.6" y="176.4" width="4.4" height="1.4" fill="#c9ab8e"/>
<rect x="1007.4" y="170.9" width="5.6" height="5.6" fill="#d9dde2"/>
<rect x="1006.4" y="169.9" width="7.6" height="7.6" fill="none" stroke="#777b80" stroke-width="0.6"/>
<rect x="1017.5" y="171.0" width="1.1" height="5.6" fill="#9a9ea4"/>
<rect x="1020.3" y="171.0" width="1.1" height="5.6" fill="#8a8e94"/>
<rect x="1027.5" y="170.9" width="5.6" height="5.6" fill="#d9dde2"/>
<rect x="1026.5" y="169.9" width="7.6" height="7.6" fill="none" stroke="#777b80" stroke-width="0.6"/>
<rect x="1037.6" y="171.0" width="1.1" height="5.6" fill="#9a9ea4"/>
<rect x="1040.4" y="171.0" width="1.1" height="5.6" fill="#8a8e94"/>
<rect x="1047.6" y="170.9" width="5.6" height="5.6" fill="#d9dde2"/>
<rect x="1046.6" y="169.9" width="7.6" height="7.6" fill="none" stroke="#777b80" stroke-width="0.6"/>
<rect x="1058.6" y="169.2" width="4.4" height="1.4" fill="#c9ab8e"/>
<rect x="1058.6" y="171.6" width="4.4" height="1.4" fill="#c9ab8e"/>
<rect x="1058.6" y="174.0" width="4.4" height="1.4" fill="#c9ab8e"/>
<rect x="1058.6" y="176.4" width="4.4" height="1.4" fill="#c9ab8e"/>
<rect x="1068.3" y="170.9" width="5.6" height="5.6" fill="#d9dde2"/>
<rect x="1067.3" y="169.9" width="7.6" height="7.6" fill="none" stroke="#777b80" stroke-width="0.6"/>
<rect x="1078.5" y="171.0" width="1.1" height="5.6" fill="#9a9ea4"/>
<rect x="1081.3" y="171.0" width="1.1" height="5.6" fill="#8a8e94"/>
<rect x="1088.4" y="170.9" width="5.6" height="5.6" fill="#d9dde2"/>
<rect x="1087.4" y="169.9" width="7.6" height="7.6" fill="none" stroke="#777b80" stroke-width="0.6"/>
<rect x="1098.6" y="171.0" width="1.1" height="5.6" fill="#9a9ea4"/>
<rect x="1101.4" y="171.0" width="1.1" height="5.6" fill="#8a8e94"/>
<rect x="1108.6" y="170.9" width="5.6" height="5.6" fill="#d9dde2"/>
<rect x="1107.6" y="169.9" width="7.6" height="7.6" fill="none" stroke="#777b80" stroke-width="0.6"/>
<rect x="1119.5" y="169.2" width="4.4" height="1.4" fill="#c9ab8e"/>
<rect x="1119.5" y="171.6" width="4.4" height="1.4" fill="#c9ab8e"/>
<rect x="1119.5" y="174.0" width="4.4" height="1.4" fill="#c9ab8e"/>
<rect x="1119.5" y="176.4" width="4.4" height="1.4" fill="#c9ab8e"/>
<rect x="1129.3" y="170.9" width="5.6" height="5.6" fill="#d9dde2"/>
<rect x="1128.3" y="169.9" width="7.6" height="7.6" fill="none" stroke="#777b80" stroke-width="0.6"/>
<rect x="1139.4" y="171.0" width="1.1" height="5.6" fill="#9a9ea4"/>
<rect x="1142.2" y="171.0" width="1.1" height="5.6" fill="#8a8e94"/>
<rect x="1149.4" y="170.9" width="5.6" height="5.6" fill="#d9dde2"/>
<rect x="1148.4" y="169.9" width="7.6" height="7.6" fill="none" stroke="#777b80" stroke-width="0.6"/>
<rect x="1159.6" y="171.0" width="1.1" height="5.6" fill="#9a9ea4"/>
<rect x="1162.4" y="171.0" width="1.1" height="5.6" fill="#8a8e94"/>
<rect x="1169.5" y="170.9" width="5.6" height="5.6" fill="#d9dde2"/>
<rect x="1168.5" y="169.9" width="7.6" height="7.6" fill="none" stroke="#777b80" stroke-width="0.6"/>
<rect x="1180.5" y="169.2" width="4.4" height="1.4" fill="#c9ab8e"/>
<rect x="1180.5" y="171.6" width="4.4" height="1.4" fill="#c9ab8e"/>
<rect x="1180.5" y="174.0" width="4.4" height="1.4" fill="#c9ab8e"/>
<rect x="1180.5" y="176.4" width="4.4" height="1.4" fill="#c9ab8e"/>
<rect x="1190.2" y="170.9" width="5.6" height="5.6" fill="#d9dde2"/>
<rect x="1189.2" y="169.9" width="7.6" height="7.6" fill="none" stroke="#777b80" stroke-width="0.6"/>
<rect x="1200.4" y="171.0" width="1.1" height="5.6" fill="#9a9ea4"/>
<rect x="1203.2" y="171.0" width="1.1" height="5.6" fill="#8a8e94"/>
<rect x="1210.4" y="170.9" width="5.6" height="5.6" fill="#d9dde2"/>
<rect x="1209.4" y="169.9" width="7.6" height="7.6" fill="none" stroke="#777b80" stroke-width="0.6"/>
<rect x="1220.5" y="171.0" width="1.1" height="5.6" fill="#9a9ea4"/>
<rect x="1223.3" y="171.0" width="1.1" height="5.6" fill="#8a8e94"/>
<rect x="1230.5" y="170.9" width="5.6" height="5.6" fill="#d9dde2"/>
<rect x="1229.5" y="169.9" width="7.6" height="7.6" fill="none" stroke="#777b80" stroke-width="0.6"/>
<rect x="1241.4" y="169.2" width="4.4" height="1.4" fill="#c9ab8e"/>
<rect x="1241.4" y="171.6" width="4.4" height="1.4" fill="#c9ab8e"/>
<rect x="1241.4" y="174.0" width="4.4" height="1.4" fill="#c9ab8e"/>
<rect x="1241.4" y="176.4" width="4.4" height="1.4" fill="#c9ab8e"/>
<rect x="1251.2" y="170.9" width="5.6" height="5.6" fill="#d9dde2"/>
<rect x="1250.2" y="169.9" width="7.6" height="7.6" fill="none" stroke="#777b80" stroke-width="0.6"/>
<rect x="1261.4" y="171.0" width="1.1" height="5.6" fill="#9a9ea4"/>
<rect x="1264.2" y="171.0" width="1.1" height="5.6" fill="#8a8e94"/>
<rect x="1271.3" y="170.9" width="5.6" height="5.6" fill="#d9dde2"/>
<rect x="1270.3" y="169.9" width="7.6" height="7.6" fill="none" stroke="#777b80" stroke-width="0.6"/>
<rect x="1281.5" y="171.0" width="1.1" height="5.6" fill="#9a9ea4"/>
<rect x="1284.3" y="171.0" width="1.1" height="5.6" fill="#8a8e94"/>
<rect x="1291.4" y="170.9" width="5.6" height="5.6" fill="#d9dde2"/>
<rect x="1290.4" y="169.9" width="7.6" height="7.6" fill="none" stroke="#777b80" stroke-width="0.6"/>
<rect x="1302.4" y="169.2" width="4.4" height="1.4" fill="#c9ab8e"/>
<rect x="1302.4" y="171.6" width="4.4" height="1.4" fill="#c9ab8e"/>
<rect x="1302.4" y="174.0" width="4.4" height="1.4" fill="#c9ab8e"/>
<rect x="1302.4" y="176.4" width="4.4" height="1.4" fill="#c9ab8e"/>
<rect x="1312.2" y="170.9" width="5.6" height="5.6" fill="#d9dde2"/>
<rect x="1311.2" y="169.9" width="7.6" height="7.6" fill="none" stroke="#777b80" stroke-width="0.6"/>
<rect x="1322.3" y="171.0" width="1.1" height="5.6" fill="#9a9ea4"/>
<rect x="1325.1" y="171.0" width="1.1" height="5.6" fill="#8a8e94"/>
<rect x="1332.3" y="170.9" width="5.6" height="5.6" fill="#d9dde2"/>
<rect x="1331.3" y="169.9" width="7.6" height="7.6" fill="none" stroke="#777b80" stroke-width="0.6"/>
<rect x="1342.4" y="171.0" width="1.1" height="5.6" fill="#9a9ea4"/>
<rect x="1345.2" y="171.0" width="1.1" height="5.6" fill="#8a8e94"/>
<rect x="1352.4" y="170.9" width="5.6" height="5.6" fill="#d9dde2"/>
<rect x="1351.4" y="169.9" width="7.6" height="7.6" fill="none" stroke="#777b80" stroke-width="0.6"/>
<rect x="1363.4" y="169.2" width="4.4" height="1.4" fill="#c9ab8e"/>
<rect x="1363.4" y="171.6" width="4.4" height="1.4" fill="#c9ab8e"/>
<rect x="1363.4" y="174.0" width="4.4" height="1.4" fill="#c9ab8e"/>
<rect x="1363.4" y="176.4" width="4.4" height="1.4" fill="#c9ab8e"/>
<rect x="87" y="220.8" width="1302.6" height="13.799999999999983" rx="2" fill="#161616"/>
<rect x="88" y="222.4" width="1300.6" height="1" fill="#5a5d62" opacity="0.8"/>
<rect x="88" y="231.6" width="1300.6" height="0.8" fill="#3a3c40" opacity="0.8"/>
<rect x="106.1" y="223.1" width="4.4" height="1.4" fill="#c9ab8e"/>
<rect x="106.1" y="225.5" width="4.4" height="1.4" fill="#c9ab8e"/>
<rect x="106.1" y="227.9" width="4.4" height="1.4" fill="#c9ab8e"/>
<rect x="106.1" y="230.3" width="4.4" height="1.4" fill="#c9ab8e"/>
<rect x="114.8" y="224.8" width="5.6" height="5.6" fill="#d9dde2"/>
<rect x="113.8" y="223.8" width="7.6" height="7.6" fill="none" stroke="#777b80" stroke-width="0.6"/>
<rect x="124.0" y="224.9" width="1.1" height="5.6" fill="#9a9ea4"/>
<rect x="126.8" y="224.9" width="1.1" height="5.6" fill="#8a8e94"/>
<rect x="132.9" y="224.8" width="5.6" height="5.6" fill="#d9dde2"/>
<rect x="131.9" y="223.8" width="7.6" height="7.6" fill="none" stroke="#777b80" stroke-width="0.6"/>
<rect x="142.1" y="224.9" width="1.1" height="5.6" fill="#9a9ea4"/>
<rect x="144.9" y="224.9" width="1.1" height="5.6" fill="#8a8e94"/>
<rect x="151.0" y="224.8" width="5.6" height="5.6" fill="#d9dde2"/>
<rect x="150.0" y="223.8" width="7.6" height="7.6" fill="none" stroke="#777b80" stroke-width="0.6"/>
<rect x="160.9" y="223.1" width="4.4" height="1.4" fill="#c9ab8e"/>
<rect x="160.9" y="225.5" width="4.4" height="1.4" fill="#c9ab8e"/>
<rect x="160.9" y="227.9" width="4.4" height="1.4" fill="#c9ab8e"/>
<rect x="160.9" y="230.3" width="4.4" height="1.4" fill="#c9ab8e"/>
<rect x="169.6" y="224.8" width="5.6" height="5.6" fill="#d9dde2"/>
<rect x="168.6" y="223.8" width="7.6" height="7.6" fill="none" stroke="#777b80" stroke-width="0.6"/>
<rect x="178.8" y="224.9" width="1.1" height="5.6" fill="#9a9ea4"/>
<rect x="181.6" y="224.9" width="1.1" height="5.6" fill="#8a8e94"/>
<rect x="187.7" y="224.8" width="5.6" height="5.6" fill="#d9dde2"/>
<rect x="186.7" y="223.8" width="7.6" height="7.6" fill="none" stroke="#777b80" stroke-width="0.6"/>
<rect x="196.9" y="224.9" width="1.1" height="5.6" fill="#9a9ea4"/>
<rect x="199.7" y="224.9" width="1.1" height="5.6" fill="#8a8e94"/>
<rect x="205.8" y="224.8" width="5.6" height="5.6" fill="#d9dde2"/>
<rect x="204.8" y="223.8" width="7.6" height="7.6" fill="none" stroke="#777b80" stroke-width="0.6"/>
<rect x="215.7" y="223.1" width="4.4" height="1.4" fill="#c9ab8e"/>
<rect x="215.7" y="225.5" width="4.4" height="1.4" fill="#c9ab8e"/>
<rect x="215.7" y="227.9" width="4.4" height="1.4" fill="#c9ab8e"/>
<rect x="215.7" y="230.3" width="4.4" height="1.4" fill="#c9ab8e"/>
<rect x="224.4" y="224.8" width="5.6" height="5.6" fill="#d9dde2"/>
<rect x="223.4" y="223.8" width="7.6" height="7.6" fill="none" stroke="#777b80" stroke-width="0.6"/>
<rect x="233.6" y="224.9" width="1.1" height="5.6" fill="#9a9ea4"/>
<rect x="236.4" y="224.9" width="1.1" height="5.6" fill="#8a8e94"/>
<rect x="242.5" y="224.8" width="5.6" height="5.6" fill="#d9dde2"/>
<rect x="241.5" y="223.8" width="7.6" height="7.6" fill="none" stroke="#777b80" stroke-width="0.6"/>
<rect x="251.7" y="224.9" width="1.1" height="5.6" fill="#9a9ea4"/>
<rect x="254.5" y="224.9" width="1.1" height="5.6" fill="#8a8e94"/>
<rect x="260.6" y="224.8" width="5.6" height="5.6" fill="#d9dde2"/>
<rect x="259.6" y="223.8" width="7.6" height="7.6" fill="none" stroke="#777b80" stroke-width="0.6"/>
<rect x="270.5" y="223.1" width="4.4" height="1.4" fill="#c9ab8e"/>
<rect x="270.5" y="225.5" width="4.4" height="1.4" fill="#c9ab8e"/>
<rect x="270.5" y="227.9" width="4.4" height="1.4" fill="#c9ab8e"/>
<rect x="270.5" y="230.3" width="4.4" height="1.4" fill="#c9ab8e"/>
<rect x="279.2" y="224.8" width="5.6" height="5.6" fill="#d9dde2"/>
<rect x="278.2" y="223.8" width="7.6" height="7.6" fill="none" stroke="#777b80" stroke-width="0.6"/>
<rect x="288.4" y="224.9" width="1.1" height="5.6" fill="#9a9ea4"/>
<rect x="291.2" y="224.9" width="1.1" height="5.6" fill="#8a8e94"/>
<rect x="297.3" y="224.8" width="5.6" height="5.6" fill="#d9dde2"/>
<rect x="296.3" y="223.8" width="7.6" height="7.6" fill="none" stroke="#777b80" stroke-width="0.6"/>
<rect x="306.5" y="224.9" width="1.1" height="5.6" fill="#9a9ea4"/>
<rect x="309.3" y="224.9" width="1.1" height="5.6" fill="#8a8e94"/>
<rect x="315.4" y="224.8" width="5.6" height="5.6" fill="#d9dde2"/>
<rect x="314.4" y="223.8" width="7.6" height="7.6" fill="none" stroke="#777b80" stroke-width="0.6"/>
<rect x="325.3" y="223.1" width="4.4" height="1.4" fill="#c9ab8e"/>
<rect x="325.3" y="225.5" width="4.4" height="1.4" fill="#c9ab8e"/>
<rect x="325.3" y="227.9" width="4.4" height="1.4" fill="#c9ab8e"/>
<rect x="325.3" y="230.3" width="4.4" height="1.4" fill="#c9ab8e"/>
<rect x="334.1" y="224.8" width="5.6" height="5.6" fill="#d9dde2"/>
<rect x="333.1" y="223.8" width="7.6" height="7.6" fill="none" stroke="#777b80" stroke-width="0.6"/>
<rect x="343.2" y="224.9" width="1.1" height="5.6" fill="#9a9ea4"/>
<rect x="346.0" y="224.9" width="1.1" height="5.6" fill="#8a8e94"/>
<rect x="352.1" y="224.8" width="5.6" height="5.6" fill="#d9dde2"/>
<rect x="351.1" y="223.8" width="7.6" height="7.6" fill="none" stroke="#777b80" stroke-width="0.6"/>
<rect x="361.3" y="224.9" width="1.1" height="5.6" fill="#9a9ea4"/>
<rect x="364.1" y="224.9" width="1.1" height="5.6" fill="#8a8e94"/>
<rect x="370.2" y="224.8" width="5.6" height="5.6" fill="#d9dde2"/>
<rect x="369.2" y="223.8" width="7.6" height="7.6" fill="none" stroke="#777b80" stroke-width="0.6"/>
<rect x="380.2" y="223.1" width="4.4" height="1.4" fill="#c9ab8e"/>
<rect x="380.2" y="225.5" width="4.4" height="1.4" fill="#c9ab8e"/>
<rect x="380.2" y="227.9" width="4.4" height="1.4" fill="#c9ab8e"/>
<rect x="380.2" y="230.3" width="4.4" height="1.4" fill="#c9ab8e"/>
<rect x="388.9" y="224.8" width="5.6" height="5.6" fill="#d9dde2"/>
<rect x="387.9" y="223.8" width="7.6" height="7.6" fill="none" stroke="#777b80" stroke-width="0.6"/>
<rect x="398.0" y="224.9" width="1.1" height="5.6" fill="#9a9ea4"/>
<rect x="400.8" y="224.9" width="1.1" height="5.6" fill="#8a8e94"/>
<rect x="407.0" y="224.8" width="5.6" height="5.6" fill="#d9dde2"/>
<rect x="406.0" y="223.8" width="7.6" height="7.6" fill="none" stroke="#777b80" stroke-width="0.6"/>
<rect x="416.1" y="224.9" width="1.1" height="5.6" fill="#9a9ea4"/>
<rect x="418.9" y="224.9" width="1.1" height="5.6" fill="#8a8e94"/>
<rect x="425.0" y="224.8" width="5.6" height="5.6" fill="#d9dde2"/>
<rect x="424.0" y="223.8" width="7.6" height="7.6" fill="none" stroke="#777b80" stroke-width="0.6"/>
<rect x="435.0" y="223.1" width="4.4" height="1.4" fill="#c9ab8e"/>
<rect x="435.0" y="225.5" width="4.4" height="1.4" fill="#c9ab8e"/>
<rect x="435.0" y="227.9" width="4.4" height="1.4" fill="#c9ab8e"/>
<rect x="435.0" y="230.3" width="4.4" height="1.4" fill="#c9ab8e"/>
<rect x="443.7" y="224.8" width="5.6" height="5.6" fill="#d9dde2"/>
<rect x="442.7" y="223.8" width="7.6" height="7.6" fill="none" stroke="#777b80" stroke-width="0.6"/>
<rect x="452.8" y="224.9" width="1.1" height="5.6" fill="#9a9ea4"/>
<rect x="455.6" y="224.9" width="1.1" height="5.6" fill="#8a8e94"/>
<rect x="461.8" y="224.8" width="5.6" height="5.6" fill="#d9dde2"/>
<rect x="460.8" y="223.8" width="7.6" height="7.6" fill="none" stroke="#777b80" stroke-width="0.6"/>
<rect x="470.9" y="224.9" width="1.1" height="5.6" fill="#9a9ea4"/>
<rect x="473.7" y="224.9" width="1.1" height="5.6" fill="#8a8e94"/>
<rect x="479.9" y="224.8" width="5.6" height="5.6" fill="#d9dde2"/>
<rect x="478.9" y="223.8" width="7.6" height="7.6" fill="none" stroke="#777b80" stroke-width="0.6"/>
<rect x="489.8" y="223.1" width="4.4" height="1.4" fill="#c9ab8e"/>
<rect x="489.8" y="225.5" width="4.4" height="1.4" fill="#c9ab8e"/>
<rect x="489.8" y="227.9" width="4.4" height="1.4" fill="#c9ab8e"/>
<rect x="489.8" y="230.3" width="4.4" height="1.4" fill="#c9ab8e"/>
<rect x="498.5" y="224.8" width="5.6" height="5.6" fill="#d9dde2"/>
<rect x="497.5" y="223.8" width="7.6" height="7.6" fill="none" stroke="#777b80" stroke-width="0.6"/>
<rect x="507.7" y="224.9" width="1.1" height="5.6" fill="#9a9ea4"/>
<rect x="510.5" y="224.9" width="1.1" height="5.6" fill="#8a8e94"/>
<rect x="516.6" y="224.8" width="5.6" height="5.6" fill="#d9dde2"/>
<rect x="515.6" y="223.8" width="7.6" height="7.6" fill="none" stroke="#777b80" stroke-width="0.6"/>
<rect x="525.7" y="224.9" width="1.1" height="5.6" fill="#9a9ea4"/>
<rect x="528.5" y="224.9" width="1.1" height="5.6" fill="#8a8e94"/>
<rect x="534.7" y="224.8" width="5.6" height="5.6" fill="#d9dde2"/>
<rect x="533.7" y="223.8" width="7.6" height="7.6" fill="none" stroke="#777b80" stroke-width="0.6"/>
<rect x="544.6" y="223.1" width="4.4" height="1.4" fill="#c9ab8e"/>
<rect x="544.6" y="225.5" width="4.4" height="1.4" fill="#c9ab8e"/>
<rect x="544.6" y="227.9" width="4.4" height="1.4" fill="#c9ab8e"/>
<rect x="544.6" y="230.3" width="4.4" height="1.4" fill="#c9ab8e"/>
<rect x="553.3" y="224.8" width="5.6" height="5.6" fill="#d9dde2"/>
<rect x="552.3" y="223.8" width="7.6" height="7.6" fill="none" stroke="#777b80" stroke-width="0.6"/>
<rect x="562.5" y="224.9" width="1.1" height="5.6" fill="#9a9ea4"/>
<rect x="565.3" y="224.9" width="1.1" height="5.6" fill="#8a8e94"/>
<rect x="571.4" y="224.8" width="5.6" height="5.6" fill="#d9dde2"/>
<rect x="570.4" y="223.8" width="7.6" height="7.6" fill="none" stroke="#777b80" stroke-width="0.6"/>
<rect x="580.6" y="224.9" width="1.1" height="5.6" fill="#9a9ea4"/>
<rect x="583.4" y="224.9" width="1.1" height="5.6" fill="#8a8e94"/>
<rect x="589.5" y="224.8" width="5.6" height="5.6" fill="#d9dde2"/>
<rect x="588.5" y="223.8" width="7.6" height="7.6" fill="none" stroke="#777b80" stroke-width="0.6"/>
<rect x="599.4" y="223.1" width="4.4" height="1.4" fill="#c9ab8e"/>
<rect x="599.4" y="225.5" width="4.4" height="1.4" fill="#c9ab8e"/>
<rect x="599.4" y="227.9" width="4.4" height="1.4" fill="#c9ab8e"/>
<rect x="599.4" y="230.3" width="4.4" height="1.4" fill="#c9ab8e"/>
<rect x="608.1" y="224.8" width="5.6" height="5.6" fill="#d9dde2"/>
<rect x="607.1" y="223.8" width="7.6" height="7.6" fill="none" stroke="#777b80" stroke-width="0.6"/>
<rect x="617.3" y="224.9" width="1.1" height="5.6" fill="#9a9ea4"/>
<rect x="620.1" y="224.9" width="1.1" height="5.6" fill="#8a8e94"/>
<rect x="626.2" y="224.8" width="5.6" height="5.6" fill="#d9dde2"/>
<rect x="625.2" y="223.8" width="7.6" height="7.6" fill="none" stroke="#777b80" stroke-width="0.6"/>
<rect x="635.4" y="224.9" width="1.1" height="5.6" fill="#9a9ea4"/>
<rect x="638.2" y="224.9" width="1.1" height="5.6" fill="#8a8e94"/>
<rect x="644.3" y="224.8" width="5.6" height="5.6" fill="#d9dde2"/>
<rect x="643.3" y="223.8" width="7.6" height="7.6" fill="none" stroke="#777b80" stroke-width="0.6"/>
<rect x="654.2" y="223.1" width="4.4" height="1.4" fill="#c9ab8e"/>
<rect x="654.2" y="225.5" width="4.4" height="1.4" fill="#c9ab8e"/>
<rect x="654.2" y="227.9" width="4.4" height="1.4" fill="#c9ab8e"/>
<rect x="654.2" y="230.3" width="4.4" height="1.4" fill="#c9ab8e"/>
<rect x="662.9" y="224.8" width="5.6" height="5.6" fill="#d9dde2"/>
<rect x="661.9" y="223.8" width="7.6" height="7.6" fill="none" stroke="#777b80" stroke-width="0.6"/>
<rect x="672.1" y="224.9" width="1.1" height="5.6" fill="#9a9ea4"/>
<rect x="674.9" y="224.9" width="1.1" height="5.6" fill="#8a8e94"/>
<rect x="681.0" y="224.8" width="5.6" height="5.6" fill="#d9dde2"/>
<rect x="680.0" y="223.8" width="7.6" height="7.6" fill="none" stroke="#777b80" stroke-width="0.6"/>
<rect x="690.2" y="224.9" width="1.1" height="5.6" fill="#9a9ea4"/>
<rect x="693.0" y="224.9" width="1.1" height="5.6" fill="#8a8e94"/>
<rect x="699.1" y="224.8" width="5.6" height="5.6" fill="#d9dde2"/>
<rect x="698.1" y="223.8" width="7.6" height="7.6" fill="none" stroke="#777b80" stroke-width="0.6"/>
<rect x="709.0" y="223.1" width="4.4" height="1.4" fill="#c9ab8e"/>
<rect x="709.0" y="225.5" width="4.4" height="1.4" fill="#c9ab8e"/>
<rect x="709.0" y="227.9" width="4.4" height="1.4" fill="#c9ab8e"/>
<rect x="709.0" y="230.3" width="4.4" height="1.4" fill="#c9ab8e"/>
<rect x="717.7" y="224.8" width="5.6" height="5.6" fill="#d9dde2"/>
<rect x="716.7" y="223.8" width="7.6" height="7.6" fill="none" stroke="#777b80" stroke-width="0.6"/>
<rect x="726.9" y="224.9" width="1.1" height="5.6" fill="#9a9ea4"/>
<rect x="729.7" y="224.9" width="1.1" height="5.6" fill="#8a8e94"/>
<rect x="735.8" y="224.8" width="5.6" height="5.6" fill="#d9dde2"/>
<rect x="734.8" y="223.8" width="7.6" height="7.6" fill="none" stroke="#777b80" stroke-width="0.6"/>
<rect x="745.0" y="224.9" width="1.1" height="5.6" fill="#9a9ea4"/>
<rect x="747.8" y="224.9" width="1.1" height="5.6" fill="#8a8e94"/>
<rect x="753.9" y="224.8" width="5.6" height="5.6" fill="#d9dde2"/>
<rect x="752.9" y="223.8" width="7.6" height="7.6" fill="none" stroke="#777b80" stroke-width="0.6"/>
<rect x="763.8" y="223.1" width="4.4" height="1.4" fill="#c9ab8e"/>
<rect x="763.8" y="225.5" width="4.4" height="1.4" fill="#c9ab8e"/>
<rect x="763.8" y="227.9" width="4.4" height="1.4" fill="#c9ab8e"/>
<rect x="763.8" y="230.3" width="4.4" height="1.4" fill="#c9ab8e"/>
<rect x="772.5" y="224.8" width="5.6" height="5.6" fill="#d9dde2"/>
<rect x="771.5" y="223.8" width="7.6" height="7.6" fill="none" stroke="#777b80" stroke-width="0.6"/>
<rect x="781.7" y="224.9" width="1.1" height="5.6" fill="#9a9ea4"/>
<rect x="784.5" y="224.9" width="1.1" height="5.6" fill="#8a8e94"/>
<rect x="790.6" y="224.8" width="5.6" height="5.6" fill="#d9dde2"/>
<rect x="789.6" y="223.8" width="7.6" height="7.6" fill="none" stroke="#777b80" stroke-width="0.6"/>
<rect x="799.8" y="224.9" width="1.1" height="5.6" fill="#9a9ea4"/>
<rect x="802.6" y="224.9" width="1.1" height="5.6" fill="#8a8e94"/>
<rect x="808.7" y="224.8" width="5.6" height="5.6" fill="#d9dde2"/>
<rect x="807.7" y="223.8" width="7.6" height="7.6" fill="none" stroke="#777b80" stroke-width="0.6"/>
<rect x="818.6" y="223.1" width="4.4" height="1.4" fill="#c9ab8e"/>
<rect x="818.6" y="225.5" width="4.4" height="1.4" fill="#c9ab8e"/>
<rect x="818.6" y="227.9" width="4.4" height="1.4" fill="#c9ab8e"/>
<rect x="818.6" y="230.3" width="4.4" height="1.4" fill="#c9ab8e"/>
<rect x="827.3" y="224.8" width="5.6" height="5.6" fill="#d9dde2"/>
<rect x="826.3" y="223.8" width="7.6" height="7.6" fill="none" stroke="#777b80" stroke-width="0.6"/>
<rect x="836.5" y="224.9" width="1.1" height="5.6" fill="#9a9ea4"/>
<rect x="839.3" y="224.9" width="1.1" height="5.6" fill="#8a8e94"/>
<rect x="845.4" y="224.8" width="5.6" height="5.6" fill="#d9dde2"/>
<rect x="844.4" y="223.8" width="7.6" height="7.6" fill="none" stroke="#777b80" stroke-width="0.6"/>
<rect x="854.6" y="224.9" width="1.1" height="5.6" fill="#9a9ea4"/>
<rect x="857.4" y="224.9" width="1.1" height="5.6" fill="#8a8e94"/>
<rect x="863.5" y="224.8" width="5.6" height="5.6" fill="#d9dde2"/>
<rect x="862.5" y="223.8" width="7.6" height="7.6" fill="none" stroke="#777b80" stroke-width="0.6"/>
<rect x="873.4" y="223.1" width="4.4" height="1.4" fill="#c9ab8e"/>
<rect x="873.4" y="225.5" width="4.4" height="1.4" fill="#c9ab8e"/>
<rect x="873.4" y="227.9" width="4.4" height="1.4" fill="#c9ab8e"/>
<rect x="873.4" y="230.3" width="4.4" height="1.4" fill="#c9ab8e"/>
<rect x="882.2" y="224.8" width="5.6" height="5.6" fill="#d9dde2"/>
<rect x="881.2" y="223.8" width="7.6" height="7.6" fill="none" stroke="#777b80" stroke-width="0.6"/>
<rect x="891.3" y="224.9" width="1.1" height="5.6" fill="#9a9ea4"/>
<rect x="894.1" y="224.9" width="1.1" height="5.6" fill="#8a8e94"/>
<rect x="900.2" y="224.8" width="5.6" height="5.6" fill="#d9dde2"/>
<rect x="899.2" y="223.8" width="7.6" height="7.6" fill="none" stroke="#777b80" stroke-width="0.6"/>
<rect x="909.4" y="224.9" width="1.1" height="5.6" fill="#9a9ea4"/>
<rect x="912.2" y="224.9" width="1.1" height="5.6" fill="#8a8e94"/>
<rect x="918.3" y="224.8" width="5.6" height="5.6" fill="#d9dde2"/>
<rect x="917.3" y="223.8" width="7.6" height="7.6" fill="none" stroke="#777b80" stroke-width="0.6"/>
<rect x="928.2" y="223.1" width="4.4" height="1.4" fill="#c9ab8e"/>
<rect x="928.2" y="225.5" width="4.4" height="1.4" fill="#c9ab8e"/>
<rect x="928.2" y="227.9" width="4.4" height="1.4" fill="#c9ab8e"/>
<rect x="928.2" y="230.3" width="4.4" height="1.4" fill="#c9ab8e"/>
<rect x="937.0" y="224.8" width="5.6" height="5.6" fill="#d9dde2"/>
<rect x="936.0" y="223.8" width="7.6" height="7.6" fill="none" stroke="#777b80" stroke-width="0.6"/>
<rect x="946.1" y="224.9" width="1.1" height="5.6" fill="#9a9ea4"/>
<rect x="948.9" y="224.9" width="1.1" height="5.6" fill="#8a8e94"/>
<rect x="955.1" y="224.8" width="5.6" height="5.6" fill="#d9dde2"/>
<rect x="954.1" y="223.8" width="7.6" height="7.6" fill="none" stroke="#777b80" stroke-width="0.6"/>
<rect x="964.2" y="224.9" width="1.1" height="5.6" fill="#9a9ea4"/>
<rect x="967.0" y="224.9" width="1.1" height="5.6" fill="#8a8e94"/>
<rect x="973.1" y="224.8" width="5.6" height="5.6" fill="#d9dde2"/>
<rect x="972.1" y="223.8" width="7.6" height="7.6" fill="none" stroke="#777b80" stroke-width="0.6"/>
<rect x="983.1" y="223.1" width="4.4" height="1.4" fill="#c9ab8e"/>
<rect x="983.1" y="225.5" width="4.4" height="1.4" fill="#c9ab8e"/>
<rect x="983.1" y="227.9" width="4.4" height="1.4" fill="#c9ab8e"/>
<rect x="983.1" y="230.3" width="4.4" height="1.4" fill="#c9ab8e"/>
<rect x="991.8" y="224.8" width="5.6" height="5.6" fill="#d9dde2"/>
<rect x="990.8" y="223.8" width="7.6" height="7.6" fill="none" stroke="#777b80" stroke-width="0.6"/>
<rect x="1000.9" y="224.9" width="1.1" height="5.6" fill="#9a9ea4"/>
<rect x="1003.7" y="224.9" width="1.1" height="5.6" fill="#8a8e94"/>
<rect x="1009.9" y="224.8" width="5.6" height="5.6" fill="#d9dde2"/>
<rect x="1008.9" y="223.8" width="7.6" height="7.6" fill="none" stroke="#777b80" stroke-width="0.6"/>
<rect x="1019.0" y="224.9" width="1.1" height="5.6" fill="#9a9ea4"/>
<rect x="1021.8" y="224.9" width="1.1" height="5.6" fill="#8a8e94"/>
<rect x="1028.0" y="224.8" width="5.6" height="5.6" fill="#d9dde2"/>
<rect x="1027.0" y="223.8" width="7.6" height="7.6" fill="none" stroke="#777b80" stroke-width="0.6"/>
<rect x="1037.9" y="223.1" width="4.4" height="1.4" fill="#c9ab8e"/>
<rect x="1037.9" y="225.5" width="4.4" height="1.4" fill="#c9ab8e"/>
<rect x="1037.9" y="227.9" width="4.4" height="1.4" fill="#c9ab8e"/>
<rect x="1037.9" y="230.3" width="4.4" height="1.4" fill="#c9ab8e"/>
<rect x="1046.6" y="224.8" width="5.6" height="5.6" fill="#d9dde2"/>
<rect x="1045.6" y="223.8" width="7.6" height="7.6" fill="none" stroke="#777b80" stroke-width="0.6"/>
<rect x="1055.8" y="224.9" width="1.1" height="5.6" fill="#9a9ea4"/>
<rect x="1058.6" y="224.9" width="1.1" height="5.6" fill="#8a8e94"/>
<rect x="1064.7" y="224.8" width="5.6" height="5.6" fill="#d9dde2"/>
<rect x="1063.7" y="223.8" width="7.6" height="7.6" fill="none" stroke="#777b80" stroke-width="0.6"/>
<rect x="1073.8" y="224.9" width="1.1" height="5.6" fill="#9a9ea4"/>
<rect x="1076.6" y="224.9" width="1.1" height="5.6" fill="#8a8e94"/>
<rect x="1082.8" y="224.8" width="5.6" height="5.6" fill="#d9dde2"/>
<rect x="1081.8" y="223.8" width="7.6" height="7.6" fill="none" stroke="#777b80" stroke-width="0.6"/>
<rect x="1092.7" y="223.1" width="4.4" height="1.4" fill="#c9ab8e"/>
<rect x="1092.7" y="225.5" width="4.4" height="1.4" fill="#c9ab8e"/>
<rect x="1092.7" y="227.9" width="4.4" height="1.4" fill="#c9ab8e"/>
<rect x="1092.7" y="230.3" width="4.4" height="1.4" fill="#c9ab8e"/>
<rect x="1101.4" y="224.8" width="5.6" height="5.6" fill="#d9dde2"/>
<rect x="1100.4" y="223.8" width="7.6" height="7.6" fill="none" stroke="#777b80" stroke-width="0.6"/>
<rect x="1110.6" y="224.9" width="1.1" height="5.6" fill="#9a9ea4"/>
<rect x="1113.4" y="224.9" width="1.1" height="5.6" fill="#8a8e94"/>
<rect x="1119.5" y="224.8" width="5.6" height="5.6" fill="#d9dde2"/>
<rect x="1118.5" y="223.8" width="7.6" height="7.6" fill="none" stroke="#777b80" stroke-width="0.6"/>
<rect x="1128.7" y="224.9" width="1.1" height="5.6" fill="#9a9ea4"/>
<rect x="1131.5" y="224.9" width="1.1" height="5.6" fill="#8a8e94"/>
<rect x="1137.6" y="224.8" width="5.6" height="5.6" fill="#d9dde2"/>
<rect x="1136.6" y="223.8" width="7.6" height="7.6" fill="none" stroke="#777b80" stroke-width="0.6"/>
<rect x="1147.5" y="223.1" width="4.4" height="1.4" fill="#c9ab8e"/>
<rect x="1147.5" y="225.5" width="4.4" height="1.4" fill="#c9ab8e"/>
<rect x="1147.5" y="227.9" width="4.4" height="1.4" fill="#c9ab8e"/>
<rect x="1147.5" y="230.3" width="4.4" height="1.4" fill="#c9ab8e"/>
<rect x="1156.2" y="224.8" width="5.6" height="5.6" fill="#d9dde2"/>
<rect x="1155.2" y="223.8" width="7.6" height="7.6" fill="none" stroke="#777b80" stroke-width="0.6"/>
<rect x="1165.4" y="224.9" width="1.1" height="5.6" fill="#9a9ea4"/>
<rect x="1168.2" y="224.9" width="1.1" height="5.6" fill="#8a8e94"/>
<rect x="1174.3" y="224.8" width="5.6" height="5.6" fill="#d9dde2"/>
<rect x="1173.3" y="223.8" width="7.6" height="7.6" fill="none" stroke="#777b80" stroke-width="0.6"/>
<rect x="1183.5" y="224.9" width="1.1" height="5.6" fill="#9a9ea4"/>
<rect x="1186.3" y="224.9" width="1.1" height="5.6" fill="#8a8e94"/>
<rect x="1192.4" y="224.8" width="5.6" height="5.6" fill="#d9dde2"/>
<rect x="1191.4" y="223.8" width="7.6" height="7.6" fill="none" stroke="#777b80" stroke-width="0.6"/>
<rect x="1202.3" y="223.1" width="4.4" height="1.4" fill="#c9ab8e"/>
<rect x="1202.3" y="225.5" width="4.4" height="1.4" fill="#c9ab8e"/>
<rect x="1202.3" y="227.9" width="4.4" height="1.4" fill="#c9ab8e"/>
<rect x="1202.3" y="230.3" width="4.4" height="1.4" fill="#c9ab8e"/>
<rect x="1211.0" y="224.8" width="5.6" height="5.6" fill="#d9dde2"/>
<rect x="1210.0" y="223.8" width="7.6" height="7.6" fill="none" stroke="#777b80" stroke-width="0.6"/>
<rect x="1220.2" y="224.9" width="1.1" height="5.6" fill="#9a9ea4"/>
<rect x="1223.0" y="224.9" width="1.1" height="5.6" fill="#8a8e94"/>
<rect x="1229.1" y="224.8" width="5.6" height="5.6" fill="#d9dde2"/>
<rect x="1228.1" y="223.8" width="7.6" height="7.6" fill="none" stroke="#777b80" stroke-width="0.6"/>
<rect x="1238.3" y="224.9" width="1.1" height="5.6" fill="#9a9ea4"/>
<rect x="1241.1" y="224.9" width="1.1" height="5.6" fill="#8a8e94"/>
<rect x="1247.2" y="224.8" width="5.6" height="5.6" fill="#d9dde2"/>
<rect x="1246.2" y="223.8" width="7.6" height="7.6" fill="none" stroke="#777b80" stroke-width="0.6"/>
<rect x="1257.1" y="223.1" width="4.4" height="1.4" fill="#c9ab8e"/>
<rect x="1257.1" y="225.5" width="4.4" height="1.4" fill="#c9ab8e"/>
<rect x="1257.1" y="227.9" width="4.4" height="1.4" fill="#c9ab8e"/>
<rect x="1257.1" y="230.3" width="4.4" height="1.4" fill="#c9ab8e"/>
<rect x="1265.8" y="224.8" width="5.6" height="5.6" fill="#d9dde2"/>
<rect x="1264.8" y="223.8" width="7.6" height="7.6" fill="none" stroke="#777b80" stroke-width="0.6"/>
<rect x="1275.0" y="224.9" width="1.1" height="5.6" fill="#9a9ea4"/>
<rect x="1277.8" y="224.9" width="1.1" height="5.6" fill="#8a8e94"/>
<rect x="1283.9" y="224.8" width="5.6" height="5.6" fill="#d9dde2"/>
<rect x="1282.9" y="223.8" width="7.6" height="7.6" fill="none" stroke="#777b80" stroke-width="0.6"/>
<rect x="1293.1" y="224.9" width="1.1" height="5.6" fill="#9a9ea4"/>
<rect x="1295.9" y="224.9" width="1.1" height="5.6" fill="#8a8e94"/>
<rect x="1302.0" y="224.8" width="5.6" height="5.6" fill="#d9dde2"/>
<rect x="1301.0" y="223.8" width="7.6" height="7.6" fill="none" stroke="#777b80" stroke-width="0.6"/>
<rect x="1311.9" y="223.1" width="4.4" height="1.4" fill="#c9ab8e"/>
<rect x="1311.9" y="225.5" width="4.4" height="1.4" fill="#c9ab8e"/>
<rect x="1311.9" y="227.9" width="4.4" height="1.4" fill="#c9ab8e"/>
<rect x="1311.9" y="230.3" width="4.4" height="1.4" fill="#c9ab8e"/>
<rect x="1320.6" y="224.8" width="5.6" height="5.6" fill="#d9dde2"/>
<rect x="1319.6" y="223.8" width="7.6" height="7.6" fill="none" stroke="#777b80" stroke-width="0.6"/>
<rect x="1329.8" y="224.9" width="1.1" height="5.6" fill="#9a9ea4"/>
<rect x="1332.6" y="224.9" width="1.1" height="5.6" fill="#8a8e94"/>
<rect x="1338.7" y="224.8" width="5.6" height="5.6" fill="#d9dde2"/>
<rect x="1337.7" y="223.8" width="7.6" height="7.6" fill="none" stroke="#777b80" stroke-width="0.6"/>
<rect x="1347.9" y="224.9" width="1.1" height="5.6" fill="#9a9ea4"/>
<rect x="1350.7" y="224.9" width="1.1" height="5.6" fill="#8a8e94"/>
<rect x="1356.8" y="224.8" width="5.6" height="5.6" fill="#d9dde2"/>
<rect x="1355.8" y="223.8" width="7.6" height="7.6" fill="none" stroke="#777b80" stroke-width="0.6"/>
<rect x="1366.7" y="223.1" width="4.4" height="1.4" fill="#c9ab8e"/>
<rect x="1366.7" y="225.5" width="4.4" height="1.4" fill="#c9ab8e"/>
<rect x="1366.7" y="227.9" width="4.4" height="1.4" fill="#c9ab8e"/>
<rect x="1366.7" y="230.3" width="4.4" height="1.4" fill="#c9ab8e"/>
<rect x="366" y="453.3" width="1024" height="15.199999999999989" rx="2" fill="#161616"/>
<rect x="367" y="454.90000000000003" width="1022" height="1" fill="#5a5d62" opacity="0.8"/>
<rect x="367" y="465.5" width="1022" height="0.8" fill="#3a3c40" opacity="0.8"/>
<rect x="388.0" y="456.3" width="4.4" height="1.4" fill="#c9ab8e"/>
<rect x="388.0" y="458.7" width="4.4" height="1.4" fill="#c9ab8e"/>
<rect x="388.0" y="461.1" width="4.4" height="1.4" fill="#c9ab8e"/>
<rect x="388.0" y="463.5" width="4.4" height="1.4" fill="#c9ab8e"/>
<rect x="397.8" y="458.0" width="5.6" height="5.6" fill="#d9dde2"/>
<rect x="396.8" y="457.0" width="7.6" height="7.6" fill="none" stroke="#777b80" stroke-width="0.6"/>
<rect x="407.9" y="458.1" width="1.1" height="5.6" fill="#9a9ea4"/>
<rect x="410.7" y="458.1" width="1.1" height="5.6" fill="#8a8e94"/>
<rect x="417.9" y="458.0" width="5.6" height="5.6" fill="#d9dde2"/>
<rect x="416.9" y="457.0" width="7.6" height="7.6" fill="none" stroke="#777b80" stroke-width="0.6"/>
<rect x="428.0" y="458.1" width="1.1" height="5.6" fill="#9a9ea4"/>
<rect x="430.8" y="458.1" width="1.1" height="5.6" fill="#8a8e94"/>
<rect x="438.0" y="458.0" width="5.6" height="5.6" fill="#d9dde2"/>
<rect x="437.0" y="457.0" width="7.6" height="7.6" fill="none" stroke="#777b80" stroke-width="0.6"/>
<rect x="449.0" y="456.3" width="4.4" height="1.4" fill="#c9ab8e"/>
<rect x="449.0" y="458.7" width="4.4" height="1.4" fill="#c9ab8e"/>
<rect x="449.0" y="461.1" width="4.4" height="1.4" fill="#c9ab8e"/>
<rect x="449.0" y="463.5" width="4.4" height="1.4" fill="#c9ab8e"/>
<rect x="458.7" y="458.0" width="5.6" height="5.6" fill="#d9dde2"/>
<rect x="457.7" y="457.0" width="7.6" height="7.6" fill="none" stroke="#777b80" stroke-width="0.6"/>
<rect x="468.9" y="458.1" width="1.1" height="5.6" fill="#9a9ea4"/>
<rect x="471.7" y="458.1" width="1.1" height="5.6" fill="#8a8e94"/>
<rect x="478.9" y="458.0" width="5.6" height="5.6" fill="#d9dde2"/>
<rect x="477.9" y="457.0" width="7.6" height="7.6" fill="none" stroke="#777b80" stroke-width="0.6"/>
<rect x="489.0" y="458.1" width="1.1" height="5.6" fill="#9a9ea4"/>
<rect x="491.8" y="458.1" width="1.1" height="5.6" fill="#8a8e94"/>
<rect x="499.0" y="458.0" width="5.6" height="5.6" fill="#d9dde2"/>
<rect x="498.0" y="457.0" width="7.6" height="7.6" fill="none" stroke="#777b80" stroke-width="0.6"/>
<rect x="510.0" y="456.3" width="4.4" height="1.4" fill="#c9ab8e"/>
<rect x="510.0" y="458.7" width="4.4" height="1.4" fill="#c9ab8e"/>
<rect x="510.0" y="461.1" width="4.4" height="1.4" fill="#c9ab8e"/>
<rect x="510.0" y="463.5" width="4.4" height="1.4" fill="#c9ab8e"/>
<rect x="519.7" y="458.0" width="5.6" height="5.6" fill="#d9dde2"/>
<rect x="518.7" y="457.0" width="7.6" height="7.6" fill="none" stroke="#777b80" stroke-width="0.6"/>
<rect x="529.9" y="458.1" width="1.1" height="5.6" fill="#9a9ea4"/>
<rect x="532.7" y="458.1" width="1.1" height="5.6" fill="#8a8e94"/>
<rect x="539.9" y="458.0" width="5.6" height="5.6" fill="#d9dde2"/>
<rect x="538.9" y="457.0" width="7.6" height="7.6" fill="none" stroke="#777b80" stroke-width="0.6"/>
<rect x="550.0" y="458.1" width="1.1" height="5.6" fill="#9a9ea4"/>
<rect x="552.8" y="458.1" width="1.1" height="5.6" fill="#8a8e94"/>
<rect x="560.0" y="458.0" width="5.6" height="5.6" fill="#d9dde2"/>
<rect x="559.0" y="457.0" width="7.6" height="7.6" fill="none" stroke="#777b80" stroke-width="0.6"/>
<rect x="570.9" y="456.3" width="4.4" height="1.4" fill="#c9ab8e"/>
<rect x="570.9" y="458.7" width="4.4" height="1.4" fill="#c9ab8e"/>
<rect x="570.9" y="461.1" width="4.4" height="1.4" fill="#c9ab8e"/>
<rect x="570.9" y="463.5" width="4.4" height="1.4" fill="#c9ab8e"/>
<rect x="580.7" y="458.0" width="5.6" height="5.6" fill="#d9dde2"/>
<rect x="579.7" y="457.0" width="7.6" height="7.6" fill="none" stroke="#777b80" stroke-width="0.6"/>
<rect x="590.9" y="458.1" width="1.1" height="5.6" fill="#9a9ea4"/>
<rect x="593.7" y="458.1" width="1.1" height="5.6" fill="#8a8e94"/>
<rect x="600.8" y="458.0" width="5.6" height="5.6" fill="#d9dde2"/>
<rect x="599.8" y="457.0" width="7.6" height="7.6" fill="none" stroke="#777b80" stroke-width="0.6"/>
<rect x="611.0" y="458.1" width="1.1" height="5.6" fill="#9a9ea4"/>
<rect x="613.8" y="458.1" width="1.1" height="5.6" fill="#8a8e94"/>
<rect x="621.0" y="458.0" width="5.6" height="5.6" fill="#d9dde2"/>
<rect x="620.0" y="457.0" width="7.6" height="7.6" fill="none" stroke="#777b80" stroke-width="0.6"/>
<rect x="631.9" y="456.3" width="4.4" height="1.4" fill="#c9ab8e"/>
<rect x="631.9" y="458.7" width="4.4" height="1.4" fill="#c9ab8e"/>
<rect x="631.9" y="461.1" width="4.4" height="1.4" fill="#c9ab8e"/>
<rect x="631.9" y="463.5" width="4.4" height="1.4" fill="#c9ab8e"/>
<rect x="641.7" y="458.0" width="5.6" height="5.6" fill="#d9dde2"/>
<rect x="640.7" y="457.0" width="7.6" height="7.6" fill="none" stroke="#777b80" stroke-width="0.6"/>
<rect x="651.8" y="458.1" width="1.1" height="5.6" fill="#9a9ea4"/>
<rect x="654.6" y="458.1" width="1.1" height="5.6" fill="#8a8e94"/>
<rect x="661.8" y="458.0" width="5.6" height="5.6" fill="#d9dde2"/>
<rect x="660.8" y="457.0" width="7.6" height="7.6" fill="none" stroke="#777b80" stroke-width="0.6"/>
<rect x="672.0" y="458.1" width="1.1" height="5.6" fill="#9a9ea4"/>
<rect x="674.8" y="458.1" width="1.1" height="5.6" fill="#8a8e94"/>
<rect x="681.9" y="458.0" width="5.6" height="5.6" fill="#d9dde2"/>
<rect x="680.9" y="457.0" width="7.6" height="7.6" fill="none" stroke="#777b80" stroke-width="0.6"/>
<rect x="692.9" y="456.3" width="4.4" height="1.4" fill="#c9ab8e"/>
<rect x="692.9" y="458.7" width="4.4" height="1.4" fill="#c9ab8e"/>
<rect x="692.9" y="461.1" width="4.4" height="1.4" fill="#c9ab8e"/>
<rect x="692.9" y="463.5" width="4.4" height="1.4" fill="#c9ab8e"/>
<rect x="702.7" y="458.0" width="5.6" height="5.6" fill="#d9dde2"/>
<rect x="701.7" y="457.0" width="7.6" height="7.6" fill="none" stroke="#777b80" stroke-width="0.6"/>
<rect x="712.8" y="458.1" width="1.1" height="5.6" fill="#9a9ea4"/>
<rect x="715.6" y="458.1" width="1.1" height="5.6" fill="#8a8e94"/>
<rect x="722.8" y="458.0" width="5.6" height="5.6" fill="#d9dde2"/>
<rect x="721.8" y="457.0" width="7.6" height="7.6" fill="none" stroke="#777b80" stroke-width="0.6"/>
<rect x="732.9" y="458.1" width="1.1" height="5.6" fill="#9a9ea4"/>
<rect x="735.7" y="458.1" width="1.1" height="5.6" fill="#8a8e94"/>
<rect x="742.9" y="458.0" width="5.6" height="5.6" fill="#d9dde2"/>
<rect x="741.9" y="457.0" width="7.6" height="7.6" fill="none" stroke="#777b80" stroke-width="0.6"/>
<rect x="753.9" y="456.3" width="4.4" height="1.4" fill="#c9ab8e"/>
<rect x="753.9" y="458.7" width="4.4" height="1.4" fill="#c9ab8e"/>
<rect x="753.9" y="461.1" width="4.4" height="1.4" fill="#c9ab8e"/>
<rect x="753.9" y="463.5" width="4.4" height="1.4" fill="#c9ab8e"/>
<rect x="763.6" y="458.0" width="5.6" height="5.6" fill="#d9dde2"/>
<rect x="762.6" y="457.0" width="7.6" height="7.6" fill="none" stroke="#777b80" stroke-width="0.6"/>
<rect x="773.8" y="458.1" width="1.1" height="5.6" fill="#9a9ea4"/>
<rect x="776.6" y="458.1" width="1.1" height="5.6" fill="#8a8e94"/>
<rect x="783.8" y="458.0" width="5.6" height="5.6" fill="#d9dde2"/>
<rect x="782.8" y="457.0" width="7.6" height="7.6" fill="none" stroke="#777b80" stroke-width="0.6"/>
<rect x="793.9" y="458.1" width="1.1" height="5.6" fill="#9a9ea4"/>
<rect x="796.7" y="458.1" width="1.1" height="5.6" fill="#8a8e94"/>
<rect x="803.9" y="458.0" width="5.6" height="5.6" fill="#d9dde2"/>
<rect x="802.9" y="457.0" width="7.6" height="7.6" fill="none" stroke="#777b80" stroke-width="0.6"/>
<rect x="814.9" y="456.3" width="4.4" height="1.4" fill="#c9ab8e"/>
<rect x="814.9" y="458.7" width="4.4" height="1.4" fill="#c9ab8e"/>
<rect x="814.9" y="461.1" width="4.4" height="1.4" fill="#c9ab8e"/>
<rect x="814.9" y="463.5" width="4.4" height="1.4" fill="#c9ab8e"/>
<rect x="824.6" y="458.0" width="5.6" height="5.6" fill="#d9dde2"/>
<rect x="823.6" y="457.0" width="7.6" height="7.6" fill="none" stroke="#777b80" stroke-width="0.6"/>
<rect x="834.8" y="458.1" width="1.1" height="5.6" fill="#9a9ea4"/>
<rect x="837.6" y="458.1" width="1.1" height="5.6" fill="#8a8e94"/>
<rect x="844.8" y="458.0" width="5.6" height="5.6" fill="#d9dde2"/>
<rect x="843.8" y="457.0" width="7.6" height="7.6" fill="none" stroke="#777b80" stroke-width="0.6"/>
<rect x="854.9" y="458.1" width="1.1" height="5.6" fill="#9a9ea4"/>
<rect x="857.7" y="458.1" width="1.1" height="5.6" fill="#8a8e94"/>
<rect x="864.9" y="458.0" width="5.6" height="5.6" fill="#d9dde2"/>
<rect x="863.9" y="457.0" width="7.6" height="7.6" fill="none" stroke="#777b80" stroke-width="0.6"/>
<rect x="875.8" y="456.3" width="4.4" height="1.4" fill="#c9ab8e"/>
<rect x="875.8" y="458.7" width="4.4" height="1.4" fill="#c9ab8e"/>
<rect x="875.8" y="461.1" width="4.4" height="1.4" fill="#c9ab8e"/>
<rect x="875.8" y="463.5" width="4.4" height="1.4" fill="#c9ab8e"/>
<rect x="885.6" y="458.0" width="5.6" height="5.6" fill="#d9dde2"/>
<rect x="884.6" y="457.0" width="7.6" height="7.6" fill="none" stroke="#777b80" stroke-width="0.6"/>
<rect x="895.8" y="458.1" width="1.1" height="5.6" fill="#9a9ea4"/>
<rect x="898.6" y="458.1" width="1.1" height="5.6" fill="#8a8e94"/>
<rect x="905.7" y="458.0" width="5.6" height="5.6" fill="#d9dde2"/>
<rect x="904.7" y="457.0" width="7.6" height="7.6" fill="none" stroke="#777b80" stroke-width="0.6"/>
<rect x="915.9" y="458.1" width="1.1" height="5.6" fill="#9a9ea4"/>
<rect x="918.7" y="458.1" width="1.1" height="5.6" fill="#8a8e94"/>
<rect x="925.9" y="458.0" width="5.6" height="5.6" fill="#d9dde2"/>
<rect x="924.9" y="457.0" width="7.6" height="7.6" fill="none" stroke="#777b80" stroke-width="0.6"/>
<rect x="936.8" y="456.3" width="4.4" height="1.4" fill="#c9ab8e"/>
<rect x="936.8" y="458.7" width="4.4" height="1.4" fill="#c9ab8e"/>
<rect x="936.8" y="461.1" width="4.4" height="1.4" fill="#c9ab8e"/>
<rect x="936.8" y="463.5" width="4.4" height="1.4" fill="#c9ab8e"/>
<rect x="946.6" y="458.0" width="5.6" height="5.6" fill="#d9dde2"/>
<rect x="945.6" y="457.0" width="7.6" height="7.6" fill="none" stroke="#777b80" stroke-width="0.6"/>
<rect x="956.7" y="458.1" width="1.1" height="5.6" fill="#9a9ea4"/>
<rect x="959.5" y="458.1" width="1.1" height="5.6" fill="#8a8e94"/>
<rect x="966.7" y="458.0" width="5.6" height="5.6" fill="#d9dde2"/>
<rect x="965.7" y="457.0" width="7.6" height="7.6" fill="none" stroke="#777b80" stroke-width="0.6"/>
<rect x="976.9" y="458.1" width="1.1" height="5.6" fill="#9a9ea4"/>
<rect x="979.7" y="458.1" width="1.1" height="5.6" fill="#8a8e94"/>
<rect x="986.8" y="458.0" width="5.6" height="5.6" fill="#d9dde2"/>
<rect x="985.8" y="457.0" width="7.6" height="7.6" fill="none" stroke="#777b80" stroke-width="0.6"/>
<rect x="997.8" y="456.3" width="4.4" height="1.4" fill="#c9ab8e"/>
<rect x="997.8" y="458.7" width="4.4" height="1.4" fill="#c9ab8e"/>
<rect x="997.8" y="461.1" width="4.4" height="1.4" fill="#c9ab8e"/>
<rect x="997.8" y="463.5" width="4.4" height="1.4" fill="#c9ab8e"/>
<rect x="1007.6" y="458.0" width="5.6" height="5.6" fill="#d9dde2"/>
<rect x="1006.6" y="457.0" width="7.6" height="7.6" fill="none" stroke="#777b80" stroke-width="0.6"/>
<rect x="1017.7" y="458.1" width="1.1" height="5.6" fill="#9a9ea4"/>
<rect x="1020.5" y="458.1" width="1.1" height="5.6" fill="#8a8e94"/>
<rect x="1027.7" y="458.0" width="5.6" height="5.6" fill="#d9dde2"/>
<rect x="1026.7" y="457.0" width="7.6" height="7.6" fill="none" stroke="#777b80" stroke-width="0.6"/>
<rect x="1037.8" y="458.1" width="1.1" height="5.6" fill="#9a9ea4"/>
<rect x="1040.6" y="458.1" width="1.1" height="5.6" fill="#8a8e94"/>
<rect x="1047.8" y="458.0" width="5.6" height="5.6" fill="#d9dde2"/>
<rect x="1046.8" y="457.0" width="7.6" height="7.6" fill="none" stroke="#777b80" stroke-width="0.6"/>
<rect x="1058.8" y="456.3" width="4.4" height="1.4" fill="#c9ab8e"/>
<rect x="1058.8" y="458.7" width="4.4" height="1.4" fill="#c9ab8e"/>
<rect x="1058.8" y="461.1" width="4.4" height="1.4" fill="#c9ab8e"/>
<rect x="1058.8" y="463.5" width="4.4" height="1.4" fill="#c9ab8e"/>
<rect x="1068.5" y="458.0" width="5.6" height="5.6" fill="#d9dde2"/>
<rect x="1067.5" y="457.0" width="7.6" height="7.6" fill="none" stroke="#777b80" stroke-width="0.6"/>
<rect x="1078.7" y="458.1" width="1.1" height="5.6" fill="#9a9ea4"/>
<rect x="1081.5" y="458.1" width="1.1" height="5.6" fill="#8a8e94"/>
<rect x="1088.7" y="458.0" width="5.6" height="5.6" fill="#d9dde2"/>
<rect x="1087.7" y="457.0" width="7.6" height="7.6" fill="none" stroke="#777b80" stroke-width="0.6"/>
<rect x="1098.8" y="458.1" width="1.1" height="5.6" fill="#9a9ea4"/>
<rect x="1101.6" y="458.1" width="1.1" height="5.6" fill="#8a8e94"/>
<rect x="1108.8" y="458.0" width="5.6" height="5.6" fill="#d9dde2"/>
<rect x="1107.8" y="457.0" width="7.6" height="7.6" fill="none" stroke="#777b80" stroke-width="0.6"/>
<rect x="1119.8" y="456.3" width="4.4" height="1.4" fill="#c9ab8e"/>
<rect x="1119.8" y="458.7" width="4.4" height="1.4" fill="#c9ab8e"/>
<rect x="1119.8" y="461.1" width="4.4" height="1.4" fill="#c9ab8e"/>
<rect x="1119.8" y="463.5" width="4.4" height="1.4" fill="#c9ab8e"/>
<rect x="1129.5" y="458.0" width="5.6" height="5.6" fill="#d9dde2"/>
<rect x="1128.5" y="457.0" width="7.6" height="7.6" fill="none" stroke="#777b80" stroke-width="0.6"/>
<rect x="1139.7" y="458.1" width="1.1" height="5.6" fill="#9a9ea4"/>
<rect x="1142.5" y="458.1" width="1.1" height="5.6" fill="#8a8e94"/>
<rect x="1149.7" y="458.0" width="5.6" height="5.6" fill="#d9dde2"/>
<rect x="1148.7" y="457.0" width="7.6" height="7.6" fill="none" stroke="#777b80" stroke-width="0.6"/>
<rect x="1159.8" y="458.1" width="1.1" height="5.6" fill="#9a9ea4"/>
<rect x="1162.6" y="458.1" width="1.1" height="5.6" fill="#8a8e94"/>
<rect x="1169.8" y="458.0" width="5.6" height="5.6" fill="#d9dde2"/>
<rect x="1168.8" y="457.0" width="7.6" height="7.6" fill="none" stroke="#777b80" stroke-width="0.6"/>
<rect x="1180.7" y="456.3" width="4.4" height="1.4" fill="#c9ab8e"/>
<rect x="1180.7" y="458.7" width="4.4" height="1.4" fill="#c9ab8e"/>
<rect x="1180.7" y="461.1" width="4.4" height="1.4" fill="#c9ab8e"/>
<rect x="1180.7" y="463.5" width="4.4" height="1.4" fill="#c9ab8e"/>
<rect x="1190.5" y="458.0" width="5.6" height="5.6" fill="#d9dde2"/>
<rect x="1189.5" y="457.0" width="7.6" height="7.6" fill="none" stroke="#777b80" stroke-width="0.6"/>
<rect x="1200.7" y="458.1" width="1.1" height="5.6" fill="#9a9ea4"/>
<rect x="1203.5" y="458.1" width="1.1" height="5.6" fill="#8a8e94"/>
<rect x="1210.6" y="458.0" width="5.6" height="5.6" fill="#d9dde2"/>
<rect x="1209.6" y="457.0" width="7.6" height="7.6" fill="none" stroke="#777b80" stroke-width="0.6"/>
<rect x="1220.8" y="458.1" width="1.1" height="5.6" fill="#9a9ea4"/>
<rect x="1223.6" y="458.1" width="1.1" height="5.6" fill="#8a8e94"/>
<rect x="1230.8" y="458.0" width="5.6" height="5.6" fill="#d9dde2"/>
<rect x="1229.8" y="457.0" width="7.6" height="7.6" fill="none" stroke="#777b80" stroke-width="0.6"/>
<rect x="1241.7" y="456.3" width="4.4" height="1.4" fill="#c9ab8e"/>
<rect x="1241.7" y="458.7" width="4.4" height="1.4" fill="#c9ab8e"/>
<rect x="1241.7" y="461.1" width="4.4" height="1.4" fill="#c9ab8e"/>
<rect x="1241.7" y="463.5" width="4.4" height="1.4" fill="#c9ab8e"/>
<rect x="1251.5" y="458.0" width="5.6" height="5.6" fill="#d9dde2"/>
<rect x="1250.5" y="457.0" width="7.6" height="7.6" fill="none" stroke="#777b80" stroke-width="0.6"/>
<rect x="1261.6" y="458.1" width="1.1" height="5.6" fill="#9a9ea4"/>
<rect x="1264.4" y="458.1" width="1.1" height="5.6" fill="#8a8e94"/>
<rect x="1271.6" y="458.0" width="5.6" height="5.6" fill="#d9dde2"/>
<rect x="1270.6" y="457.0" width="7.6" height="7.6" fill="none" stroke="#777b80" stroke-width="0.6"/>
<rect x="1281.8" y="458.1" width="1.1" height="5.6" fill="#9a9ea4"/>
<rect x="1284.6" y="458.1" width="1.1" height="5.6" fill="#8a8e94"/>
<rect x="1291.7" y="458.0" width="5.6" height="5.6" fill="#d9dde2"/>
<rect x="1290.7" y="457.0" width="7.6" height="7.6" fill="none" stroke="#777b80" stroke-width="0.6"/>
<rect x="1302.7" y="456.3" width="4.4" height="1.4" fill="#c9ab8e"/>
<rect x="1302.7" y="458.7" width="4.4" height="1.4" fill="#c9ab8e"/>
<rect x="1302.7" y="461.1" width="4.4" height="1.4" fill="#c9ab8e"/>
<rect x="1302.7" y="463.5" width="4.4" height="1.4" fill="#c9ab8e"/>
<rect x="1312.5" y="458.0" width="5.6" height="5.6" fill="#d9dde2"/>
<rect x="1311.5" y="457.0" width="7.6" height="7.6" fill="none" stroke="#777b80" stroke-width="0.6"/>
<rect x="1322.6" y="458.1" width="1.1" height="5.6" fill="#9a9ea4"/>
<rect x="1325.4" y="458.1" width="1.1" height="5.6" fill="#8a8e94"/>
<rect x="1332.6" y="458.0" width="5.6" height="5.6" fill="#d9dde2"/>
<rect x="1331.6" y="457.0" width="7.6" height="7.6" fill="none" stroke="#777b80" stroke-width="0.6"/>
<rect x="1342.7" y="458.1" width="1.1" height="5.6" fill="#9a9ea4"/>
<rect x="1345.5" y="458.1" width="1.1" height="5.6" fill="#8a8e94"/>
<rect x="1352.7" y="458.0" width="5.6" height="5.6" fill="#d9dde2"/>
<rect x="1351.7" y="457.0" width="7.6" height="7.6" fill="none" stroke="#777b80" stroke-width="0.6"/>
<rect x="1363.7" y="456.3" width="4.4" height="1.4" fill="#c9ab8e"/>
<rect x="1363.7" y="458.7" width="4.4" height="1.4" fill="#c9ab8e"/>
<rect x="1363.7" y="461.1" width="4.4" height="1.4" fill="#c9ab8e"/>
<rect x="1363.7" y="463.5" width="4.4" height="1.4" fill="#c9ab8e"/>
<rect x="88" y="506.7" width="1302" height="13.800000000000011" rx="2" fill="#161616"/>
<rect x="89" y="508.3" width="1300" height="1" fill="#5a5d62" opacity="0.8"/>
<rect x="89" y="517.5" width="1300" height="0.8" fill="#3a3c40" opacity="0.8"/>
<rect x="107.1" y="509.0" width="4.4" height="1.4" fill="#c9ab8e"/>
<rect x="107.1" y="511.4" width="4.4" height="1.4" fill="#c9ab8e"/>
<rect x="107.1" y="513.8" width="4.4" height="1.4" fill="#c9ab8e"/>
<rect x="107.1" y="516.2" width="4.4" height="1.4" fill="#c9ab8e"/>
<rect x="115.8" y="510.7" width="5.6" height="5.6" fill="#d9dde2"/>
<rect x="114.8" y="509.7" width="7.6" height="7.6" fill="none" stroke="#777b80" stroke-width="0.6"/>
<rect x="125.0" y="510.8" width="1.1" height="5.6" fill="#9a9ea4"/>
<rect x="127.8" y="510.8" width="1.1" height="5.6" fill="#8a8e94"/>
<rect x="133.9" y="510.7" width="5.6" height="5.6" fill="#d9dde2"/>
<rect x="132.9" y="509.7" width="7.6" height="7.6" fill="none" stroke="#777b80" stroke-width="0.6"/>
<rect x="143.1" y="510.8" width="1.1" height="5.6" fill="#9a9ea4"/>
<rect x="145.9" y="510.8" width="1.1" height="5.6" fill="#8a8e94"/>
<rect x="152.0" y="510.7" width="5.6" height="5.6" fill="#d9dde2"/>
<rect x="151.0" y="509.7" width="7.6" height="7.6" fill="none" stroke="#777b80" stroke-width="0.6"/>
<rect x="161.9" y="509.0" width="4.4" height="1.4" fill="#c9ab8e"/>
<rect x="161.9" y="511.4" width="4.4" height="1.4" fill="#c9ab8e"/>
<rect x="161.9" y="513.8" width="4.4" height="1.4" fill="#c9ab8e"/>
<rect x="161.9" y="516.2" width="4.4" height="1.4" fill="#c9ab8e"/>
<rect x="170.6" y="510.7" width="5.6" height="5.6" fill="#d9dde2"/>
<rect x="169.6" y="509.7" width="7.6" height="7.6" fill="none" stroke="#777b80" stroke-width="0.6"/>
<rect x="179.8" y="510.8" width="1.1" height="5.6" fill="#9a9ea4"/>
<rect x="182.6" y="510.8" width="1.1" height="5.6" fill="#8a8e94"/>
<rect x="188.7" y="510.7" width="5.6" height="5.6" fill="#d9dde2"/>
<rect x="187.7" y="509.7" width="7.6" height="7.6" fill="none" stroke="#777b80" stroke-width="0.6"/>
<rect x="197.9" y="510.8" width="1.1" height="5.6" fill="#9a9ea4"/>
<rect x="200.7" y="510.8" width="1.1" height="5.6" fill="#8a8e94"/>
<rect x="206.8" y="510.7" width="5.6" height="5.6" fill="#d9dde2"/>
<rect x="205.8" y="509.7" width="7.6" height="7.6" fill="none" stroke="#777b80" stroke-width="0.6"/>
<rect x="216.7" y="509.0" width="4.4" height="1.4" fill="#c9ab8e"/>
<rect x="216.7" y="511.4" width="4.4" height="1.4" fill="#c9ab8e"/>
<rect x="216.7" y="513.8" width="4.4" height="1.4" fill="#c9ab8e"/>
<rect x="216.7" y="516.2" width="4.4" height="1.4" fill="#c9ab8e"/>
<rect x="225.4" y="510.7" width="5.6" height="5.6" fill="#d9dde2"/>
<rect x="224.4" y="509.7" width="7.6" height="7.6" fill="none" stroke="#777b80" stroke-width="0.6"/>
<rect x="234.6" y="510.8" width="1.1" height="5.6" fill="#9a9ea4"/>
<rect x="237.4" y="510.8" width="1.1" height="5.6" fill="#8a8e94"/>
<rect x="243.5" y="510.7" width="5.6" height="5.6" fill="#d9dde2"/>
<rect x="242.5" y="509.7" width="7.6" height="7.6" fill="none" stroke="#777b80" stroke-width="0.6"/>
<rect x="252.7" y="510.8" width="1.1" height="5.6" fill="#9a9ea4"/>
<rect x="255.5" y="510.8" width="1.1" height="5.6" fill="#8a8e94"/>
<rect x="261.6" y="510.7" width="5.6" height="5.6" fill="#d9dde2"/>
<rect x="260.6" y="509.7" width="7.6" height="7.6" fill="none" stroke="#777b80" stroke-width="0.6"/>
<rect x="271.5" y="509.0" width="4.4" height="1.4" fill="#c9ab8e"/>
<rect x="271.5" y="511.4" width="4.4" height="1.4" fill="#c9ab8e"/>
<rect x="271.5" y="513.8" width="4.4" height="1.4" fill="#c9ab8e"/>
<rect x="271.5" y="516.2" width="4.4" height="1.4" fill="#c9ab8e"/>
<rect x="280.2" y="510.7" width="5.6" height="5.6" fill="#d9dde2"/>
<rect x="279.2" y="509.7" width="7.6" height="7.6" fill="none" stroke="#777b80" stroke-width="0.6"/>
<rect x="289.4" y="510.8" width="1.1" height="5.6" fill="#9a9ea4"/>
<rect x="292.2" y="510.8" width="1.1" height="5.6" fill="#8a8e94"/>
<rect x="298.3" y="510.7" width="5.6" height="5.6" fill="#d9dde2"/>
<rect x="297.3" y="509.7" width="7.6" height="7.6" fill="none" stroke="#777b80" stroke-width="0.6"/>
<rect x="307.5" y="510.8" width="1.1" height="5.6" fill="#9a9ea4"/>
<rect x="310.3" y="510.8" width="1.1" height="5.6" fill="#8a8e94"/>
<rect x="316.4" y="510.7" width="5.6" height="5.6" fill="#d9dde2"/>
<rect x="315.4" y="509.7" width="7.6" height="7.6" fill="none" stroke="#777b80" stroke-width="0.6"/>
<rect x="326.3" y="509.0" width="4.4" height="1.4" fill="#c9ab8e"/>
<rect x="326.3" y="511.4" width="4.4" height="1.4" fill="#c9ab8e"/>
<rect x="326.3" y="513.8" width="4.4" height="1.4" fill="#c9ab8e"/>
<rect x="326.3" y="516.2" width="4.4" height="1.4" fill="#c9ab8e"/>
<rect x="335.1" y="510.7" width="5.6" height="5.6" fill="#d9dde2"/>
<rect x="334.1" y="509.7" width="7.6" height="7.6" fill="none" stroke="#777b80" stroke-width="0.6"/>
<rect x="344.2" y="510.8" width="1.1" height="5.6" fill="#9a9ea4"/>
<rect x="347.0" y="510.8" width="1.1" height="5.6" fill="#8a8e94"/>
<rect x="353.1" y="510.7" width="5.6" height="5.6" fill="#d9dde2"/>
<rect x="352.1" y="509.7" width="7.6" height="7.6" fill="none" stroke="#777b80" stroke-width="0.6"/>
<rect x="362.3" y="510.8" width="1.1" height="5.6" fill="#9a9ea4"/>
<rect x="365.1" y="510.8" width="1.1" height="5.6" fill="#8a8e94"/>
<rect x="371.2" y="510.7" width="5.6" height="5.6" fill="#d9dde2"/>
<rect x="370.2" y="509.7" width="7.6" height="7.6" fill="none" stroke="#777b80" stroke-width="0.6"/>
<rect x="381.2" y="509.0" width="4.4" height="1.4" fill="#c9ab8e"/>
<rect x="381.2" y="511.4" width="4.4" height="1.4" fill="#c9ab8e"/>
<rect x="381.2" y="513.8" width="4.4" height="1.4" fill="#c9ab8e"/>
<rect x="381.2" y="516.2" width="4.4" height="1.4" fill="#c9ab8e"/>
<rect x="389.9" y="510.7" width="5.6" height="5.6" fill="#d9dde2"/>
<rect x="388.9" y="509.7" width="7.6" height="7.6" fill="none" stroke="#777b80" stroke-width="0.6"/>
<rect x="399.0" y="510.8" width="1.1" height="5.6" fill="#9a9ea4"/>
<rect x="401.8" y="510.8" width="1.1" height="5.6" fill="#8a8e94"/>
<rect x="408.0" y="510.7" width="5.6" height="5.6" fill="#d9dde2"/>
<rect x="407.0" y="509.7" width="7.6" height="7.6" fill="none" stroke="#777b80" stroke-width="0.6"/>
<rect x="417.1" y="510.8" width="1.1" height="5.6" fill="#9a9ea4"/>
<rect x="419.9" y="510.8" width="1.1" height="5.6" fill="#8a8e94"/>
<rect x="426.0" y="510.7" width="5.6" height="5.6" fill="#d9dde2"/>
<rect x="425.0" y="509.7" width="7.6" height="7.6" fill="none" stroke="#777b80" stroke-width="0.6"/>
<rect x="436.0" y="509.0" width="4.4" height="1.4" fill="#c9ab8e"/>
<rect x="436.0" y="511.4" width="4.4" height="1.4" fill="#c9ab8e"/>
<rect x="436.0" y="513.8" width="4.4" height="1.4" fill="#c9ab8e"/>
<rect x="436.0" y="516.2" width="4.4" height="1.4" fill="#c9ab8e"/>
<rect x="444.7" y="510.7" width="5.6" height="5.6" fill="#d9dde2"/>
<rect x="443.7" y="509.7" width="7.6" height="7.6" fill="none" stroke="#777b80" stroke-width="0.6"/>
<rect x="453.8" y="510.8" width="1.1" height="5.6" fill="#9a9ea4"/>
<rect x="456.6" y="510.8" width="1.1" height="5.6" fill="#8a8e94"/>
<rect x="462.8" y="510.7" width="5.6" height="5.6" fill="#d9dde2"/>
<rect x="461.8" y="509.7" width="7.6" height="7.6" fill="none" stroke="#777b80" stroke-width="0.6"/>
<rect x="471.9" y="510.8" width="1.1" height="5.6" fill="#9a9ea4"/>
<rect x="474.7" y="510.8" width="1.1" height="5.6" fill="#8a8e94"/>
<rect x="480.9" y="510.7" width="5.6" height="5.6" fill="#d9dde2"/>
<rect x="479.9" y="509.7" width="7.6" height="7.6" fill="none" stroke="#777b80" stroke-width="0.6"/>
<rect x="490.8" y="509.0" width="4.4" height="1.4" fill="#c9ab8e"/>
<rect x="490.8" y="511.4" width="4.4" height="1.4" fill="#c9ab8e"/>
<rect x="490.8" y="513.8" width="4.4" height="1.4" fill="#c9ab8e"/>
<rect x="490.8" y="516.2" width="4.4" height="1.4" fill="#c9ab8e"/>
<rect x="499.5" y="510.7" width="5.6" height="5.6" fill="#d9dde2"/>
<rect x="498.5" y="509.7" width="7.6" height="7.6" fill="none" stroke="#777b80" stroke-width="0.6"/>
<rect x="508.7" y="510.8" width="1.1" height="5.6" fill="#9a9ea4"/>
<rect x="511.5" y="510.8" width="1.1" height="5.6" fill="#8a8e94"/>
<rect x="517.6" y="510.7" width="5.6" height="5.6" fill="#d9dde2"/>
<rect x="516.6" y="509.7" width="7.6" height="7.6" fill="none" stroke="#777b80" stroke-width="0.6"/>
<rect x="526.7" y="510.8" width="1.1" height="5.6" fill="#9a9ea4"/>
<rect x="529.5" y="510.8" width="1.1" height="5.6" fill="#8a8e94"/>
<rect x="535.7" y="510.7" width="5.6" height="5.6" fill="#d9dde2"/>
<rect x="534.7" y="509.7" width="7.6" height="7.6" fill="none" stroke="#777b80" stroke-width="0.6"/>
<rect x="545.6" y="509.0" width="4.4" height="1.4" fill="#c9ab8e"/>
<rect x="545.6" y="511.4" width="4.4" height="1.4" fill="#c9ab8e"/>
<rect x="545.6" y="513.8" width="4.4" height="1.4" fill="#c9ab8e"/>
<rect x="545.6" y="516.2" width="4.4" height="1.4" fill="#c9ab8e"/>
<rect x="554.3" y="510.7" width="5.6" height="5.6" fill="#d9dde2"/>
<rect x="553.3" y="509.7" width="7.6" height="7.6" fill="none" stroke="#777b80" stroke-width="0.6"/>
<rect x="563.5" y="510.8" width="1.1" height="5.6" fill="#9a9ea4"/>
<rect x="566.3" y="510.8" width="1.1" height="5.6" fill="#8a8e94"/>
<rect x="572.4" y="510.7" width="5.6" height="5.6" fill="#d9dde2"/>
<rect x="571.4" y="509.7" width="7.6" height="7.6" fill="none" stroke="#777b80" stroke-width="0.6"/>
<rect x="581.6" y="510.8" width="1.1" height="5.6" fill="#9a9ea4"/>
<rect x="584.4" y="510.8" width="1.1" height="5.6" fill="#8a8e94"/>
<rect x="590.5" y="510.7" width="5.6" height="5.6" fill="#d9dde2"/>
<rect x="589.5" y="509.7" width="7.6" height="7.6" fill="none" stroke="#777b80" stroke-width="0.6"/>
<rect x="600.4" y="509.0" width="4.4" height="1.4" fill="#c9ab8e"/>
<rect x="600.4" y="511.4" width="4.4" height="1.4" fill="#c9ab8e"/>
<rect x="600.4" y="513.8" width="4.4" height="1.4" fill="#c9ab8e"/>
<rect x="600.4" y="516.2" width="4.4" height="1.4" fill="#c9ab8e"/>
<rect x="609.1" y="510.7" width="5.6" height="5.6" fill="#d9dde2"/>
<rect x="608.1" y="509.7" width="7.6" height="7.6" fill="none" stroke="#777b80" stroke-width="0.6"/>
<rect x="618.3" y="510.8" width="1.1" height="5.6" fill="#9a9ea4"/>
<rect x="621.1" y="510.8" width="1.1" height="5.6" fill="#8a8e94"/>
<rect x="627.2" y="510.7" width="5.6" height="5.6" fill="#d9dde2"/>
<rect x="626.2" y="509.7" width="7.6" height="7.6" fill="none" stroke="#777b80" stroke-width="0.6"/>
<rect x="636.4" y="510.8" width="1.1" height="5.6" fill="#9a9ea4"/>
<rect x="639.2" y="510.8" width="1.1" height="5.6" fill="#8a8e94"/>
<rect x="645.3" y="510.7" width="5.6" height="5.6" fill="#d9dde2"/>
<rect x="644.3" y="509.7" width="7.6" height="7.6" fill="none" stroke="#777b80" stroke-width="0.6"/>
<rect x="655.2" y="509.0" width="4.4" height="1.4" fill="#c9ab8e"/>
<rect x="655.2" y="511.4" width="4.4" height="1.4" fill="#c9ab8e"/>
<rect x="655.2" y="513.8" width="4.4" height="1.4" fill="#c9ab8e"/>
<rect x="655.2" y="516.2" width="4.4" height="1.4" fill="#c9ab8e"/>
<rect x="663.9" y="510.7" width="5.6" height="5.6" fill="#d9dde2"/>
<rect x="662.9" y="509.7" width="7.6" height="7.6" fill="none" stroke="#777b80" stroke-width="0.6"/>
<rect x="673.1" y="510.8" width="1.1" height="5.6" fill="#9a9ea4"/>
<rect x="675.9" y="510.8" width="1.1" height="5.6" fill="#8a8e94"/>
<rect x="682.0" y="510.7" width="5.6" height="5.6" fill="#d9dde2"/>
<rect x="681.0" y="509.7" width="7.6" height="7.6" fill="none" stroke="#777b80" stroke-width="0.6"/>
<rect x="691.2" y="510.8" width="1.1" height="5.6" fill="#9a9ea4"/>
<rect x="694.0" y="510.8" width="1.1" height="5.6" fill="#8a8e94"/>
<rect x="700.1" y="510.7" width="5.6" height="5.6" fill="#d9dde2"/>
<rect x="699.1" y="509.7" width="7.6" height="7.6" fill="none" stroke="#777b80" stroke-width="0.6"/>
<rect x="710.0" y="509.0" width="4.4" height="1.4" fill="#c9ab8e"/>
<rect x="710.0" y="511.4" width="4.4" height="1.4" fill="#c9ab8e"/>
<rect x="710.0" y="513.8" width="4.4" height="1.4" fill="#c9ab8e"/>
<rect x="710.0" y="516.2" width="4.4" height="1.4" fill="#c9ab8e"/>
<rect x="718.7" y="510.7" width="5.6" height="5.6" fill="#d9dde2"/>
<rect x="717.7" y="509.7" width="7.6" height="7.6" fill="none" stroke="#777b80" stroke-width="0.6"/>
<rect x="727.9" y="510.8" width="1.1" height="5.6" fill="#9a9ea4"/>
<rect x="730.7" y="510.8" width="1.1" height="5.6" fill="#8a8e94"/>
<rect x="736.8" y="510.7" width="5.6" height="5.6" fill="#d9dde2"/>
<rect x="735.8" y="509.7" width="7.6" height="7.6" fill="none" stroke="#777b80" stroke-width="0.6"/>
<rect x="746.0" y="510.8" width="1.1" height="5.6" fill="#9a9ea4"/>
<rect x="748.8" y="510.8" width="1.1" height="5.6" fill="#8a8e94"/>
<rect x="754.9" y="510.7" width="5.6" height="5.6" fill="#d9dde2"/>
<rect x="753.9" y="509.7" width="7.6" height="7.6" fill="none" stroke="#777b80" stroke-width="0.6"/>
<rect x="764.8" y="509.0" width="4.4" height="1.4" fill="#c9ab8e"/>
<rect x="764.8" y="511.4" width="4.4" height="1.4" fill="#c9ab8e"/>
<rect x="764.8" y="513.8" width="4.4" height="1.4" fill="#c9ab8e"/>
<rect x="764.8" y="516.2" width="4.4" height="1.4" fill="#c9ab8e"/>
<rect x="773.5" y="510.7" width="5.6" height="5.6" fill="#d9dde2"/>
<rect x="772.5" y="509.7" width="7.6" height="7.6" fill="none" stroke="#777b80" stroke-width="0.6"/>
<rect x="782.7" y="510.8" width="1.1" height="5.6" fill="#9a9ea4"/>
<rect x="785.5" y="510.8" width="1.1" height="5.6" fill="#8a8e94"/>
<rect x="791.6" y="510.7" width="5.6" height="5.6" fill="#d9dde2"/>
<rect x="790.6" y="509.7" width="7.6" height="7.6" fill="none" stroke="#777b80" stroke-width="0.6"/>
<rect x="800.8" y="510.8" width="1.1" height="5.6" fill="#9a9ea4"/>
<rect x="803.6" y="510.8" width="1.1" height="5.6" fill="#8a8e94"/>
<rect x="809.7" y="510.7" width="5.6" height="5.6" fill="#d9dde2"/>
<rect x="808.7" y="509.7" width="7.6" height="7.6" fill="none" stroke="#777b80" stroke-width="0.6"/>
<rect x="819.6" y="509.0" width="4.4" height="1.4" fill="#c9ab8e"/>
<rect x="819.6" y="511.4" width="4.4" height="1.4" fill="#c9ab8e"/>
<rect x="819.6" y="513.8" width="4.4" height="1.4" fill="#c9ab8e"/>
<rect x="819.6" y="516.2" width="4.4" height="1.4" fill="#c9ab8e"/>
<rect x="828.3" y="510.7" width="5.6" height="5.6" fill="#d9dde2"/>
<rect x="827.3" y="509.7" width="7.6" height="7.6" fill="none" stroke="#777b80" stroke-width="0.6"/>
<rect x="837.5" y="510.8" width="1.1" height="5.6" fill="#9a9ea4"/>
<rect x="840.3" y="510.8" width="1.1" height="5.6" fill="#8a8e94"/>
<rect x="846.4" y="510.7" width="5.6" height="5.6" fill="#d9dde2"/>
<rect x="845.4" y="509.7" width="7.6" height="7.6" fill="none" stroke="#777b80" stroke-width="0.6"/>
<rect x="855.6" y="510.8" width="1.1" height="5.6" fill="#9a9ea4"/>
<rect x="858.4" y="510.8" width="1.1" height="5.6" fill="#8a8e94"/>
<rect x="864.5" y="510.7" width="5.6" height="5.6" fill="#d9dde2"/>
<rect x="863.5" y="509.7" width="7.6" height="7.6" fill="none" stroke="#777b80" stroke-width="0.6"/>
<rect x="874.4" y="509.0" width="4.4" height="1.4" fill="#c9ab8e"/>
<rect x="874.4" y="511.4" width="4.4" height="1.4" fill="#c9ab8e"/>
<rect x="874.4" y="513.8" width="4.4" height="1.4" fill="#c9ab8e"/>
<rect x="874.4" y="516.2" width="4.4" height="1.4" fill="#c9ab8e"/>
<rect x="883.2" y="510.7" width="5.6" height="5.6" fill="#d9dde2"/>
<rect x="882.2" y="509.7" width="7.6" height="7.6" fill="none" stroke="#777b80" stroke-width="0.6"/>
<rect x="892.3" y="510.8" width="1.1" height="5.6" fill="#9a9ea4"/>
<rect x="895.1" y="510.8" width="1.1" height="5.6" fill="#8a8e94"/>
<rect x="901.2" y="510.7" width="5.6" height="5.6" fill="#d9dde2"/>
<rect x="900.2" y="509.7" width="7.6" height="7.6" fill="none" stroke="#777b80" stroke-width="0.6"/>
<rect x="910.4" y="510.8" width="1.1" height="5.6" fill="#9a9ea4"/>
<rect x="913.2" y="510.8" width="1.1" height="5.6" fill="#8a8e94"/>
<rect x="919.3" y="510.7" width="5.6" height="5.6" fill="#d9dde2"/>
<rect x="918.3" y="509.7" width="7.6" height="7.6" fill="none" stroke="#777b80" stroke-width="0.6"/>
<rect x="929.2" y="509.0" width="4.4" height="1.4" fill="#c9ab8e"/>
<rect x="929.2" y="511.4" width="4.4" height="1.4" fill="#c9ab8e"/>
<rect x="929.2" y="513.8" width="4.4" height="1.4" fill="#c9ab8e"/>
<rect x="929.2" y="516.2" width="4.4" height="1.4" fill="#c9ab8e"/>
<rect x="938.0" y="510.7" width="5.6" height="5.6" fill="#d9dde2"/>
<rect x="937.0" y="509.7" width="7.6" height="7.6" fill="none" stroke="#777b80" stroke-width="0.6"/>
<rect x="947.1" y="510.8" width="1.1" height="5.6" fill="#9a9ea4"/>
<rect x="949.9" y="510.8" width="1.1" height="5.6" fill="#8a8e94"/>
<rect x="956.1" y="510.7" width="5.6" height="5.6" fill="#d9dde2"/>
<rect x="955.1" y="509.7" width="7.6" height="7.6" fill="none" stroke="#777b80" stroke-width="0.6"/>
<rect x="965.2" y="510.8" width="1.1" height="5.6" fill="#9a9ea4"/>
<rect x="968.0" y="510.8" width="1.1" height="5.6" fill="#8a8e94"/>
<rect x="974.1" y="510.7" width="5.6" height="5.6" fill="#d9dde2"/>
<rect x="973.1" y="509.7" width="7.6" height="7.6" fill="none" stroke="#777b80" stroke-width="0.6"/>
<rect x="984.1" y="509.0" width="4.4" height="1.4" fill="#c9ab8e"/>
<rect x="984.1" y="511.4" width="4.4" height="1.4" fill="#c9ab8e"/>
<rect x="984.1" y="513.8" width="4.4" height="1.4" fill="#c9ab8e"/>
<rect x="984.1" y="516.2" width="4.4" height="1.4" fill="#c9ab8e"/>
<rect x="992.8" y="510.7" width="5.6" height="5.6" fill="#d9dde2"/>
<rect x="991.8" y="509.7" width="7.6" height="7.6" fill="none" stroke="#777b80" stroke-width="0.6"/>
<rect x="1001.9" y="510.8" width="1.1" height="5.6" fill="#9a9ea4"/>
<rect x="1004.7" y="510.8" width="1.1" height="5.6" fill="#8a8e94"/>
<rect x="1010.9" y="510.7" width="5.6" height="5.6" fill="#d9dde2"/>
<rect x="1009.9" y="509.7" width="7.6" height="7.6" fill="none" stroke="#777b80" stroke-width="0.6"/>
<rect x="1020.0" y="510.8" width="1.1" height="5.6" fill="#9a9ea4"/>
<rect x="1022.8" y="510.8" width="1.1" height="5.6" fill="#8a8e94"/>
<rect x="1029.0" y="510.7" width="5.6" height="5.6" fill="#d9dde2"/>
<rect x="1028.0" y="509.7" width="7.6" height="7.6" fill="none" stroke="#777b80" stroke-width="0.6"/>
<rect x="1038.9" y="509.0" width="4.4" height="1.4" fill="#c9ab8e"/>
<rect x="1038.9" y="511.4" width="4.4" height="1.4" fill="#c9ab8e"/>
<rect x="1038.9" y="513.8" width="4.4" height="1.4" fill="#c9ab8e"/>
<rect x="1038.9" y="516.2" width="4.4" height="1.4" fill="#c9ab8e"/>
<rect x="1047.6" y="510.7" width="5.6" height="5.6" fill="#d9dde2"/>
<rect x="1046.6" y="509.7" width="7.6" height="7.6" fill="none" stroke="#777b80" stroke-width="0.6"/>
<rect x="1056.8" y="510.8" width="1.1" height="5.6" fill="#9a9ea4"/>
<rect x="1059.6" y="510.8" width="1.1" height="5.6" fill="#8a8e94"/>
<rect x="1065.7" y="510.7" width="5.6" height="5.6" fill="#d9dde2"/>
<rect x="1064.7" y="509.7" width="7.6" height="7.6" fill="none" stroke="#777b80" stroke-width="0.6"/>
<rect x="1074.8" y="510.8" width="1.1" height="5.6" fill="#9a9ea4"/>
<rect x="1077.6" y="510.8" width="1.1" height="5.6" fill="#8a8e94"/>
<rect x="1083.8" y="510.7" width="5.6" height="5.6" fill="#d9dde2"/>
<rect x="1082.8" y="509.7" width="7.6" height="7.6" fill="none" stroke="#777b80" stroke-width="0.6"/>
<rect x="1093.7" y="509.0" width="4.4" height="1.4" fill="#c9ab8e"/>
<rect x="1093.7" y="511.4" width="4.4" height="1.4" fill="#c9ab8e"/>
<rect x="1093.7" y="513.8" width="4.4" height="1.4" fill="#c9ab8e"/>
<rect x="1093.7" y="516.2" width="4.4" height="1.4" fill="#c9ab8e"/>
<rect x="1102.4" y="510.7" width="5.6" height="5.6" fill="#d9dde2"/>
<rect x="1101.4" y="509.7" width="7.6" height="7.6" fill="none" stroke="#777b80" stroke-width="0.6"/>
<rect x="1111.6" y="510.8" width="1.1" height="5.6" fill="#9a9ea4"/>
<rect x="1114.4" y="510.8" width="1.1" height="5.6" fill="#8a8e94"/>
<rect x="1120.5" y="510.7" width="5.6" height="5.6" fill="#d9dde2"/>
<rect x="1119.5" y="509.7" width="7.6" height="7.6" fill="none" stroke="#777b80" stroke-width="0.6"/>
<rect x="1129.7" y="510.8" width="1.1" height="5.6" fill="#9a9ea4"/>
<rect x="1132.5" y="510.8" width="1.1" height="5.6" fill="#8a8e94"/>
<rect x="1138.6" y="510.7" width="5.6" height="5.6" fill="#d9dde2"/>
<rect x="1137.6" y="509.7" width="7.6" height="7.6" fill="none" stroke="#777b80" stroke-width="0.6"/>
<rect x="1148.5" y="509.0" width="4.4" height="1.4" fill="#c9ab8e"/>
<rect x="1148.5" y="511.4" width="4.4" height="1.4" fill="#c9ab8e"/>
<rect x="1148.5" y="513.8" width="4.4" height="1.4" fill="#c9ab8e"/>
<rect x="1148.5" y="516.2" width="4.4" height="1.4" fill="#c9ab8e"/>
<rect x="1157.2" y="510.7" width="5.6" height="5.6" fill="#d9dde2"/>
<rect x="1156.2" y="509.7" width="7.6" height="7.6" fill="none" stroke="#777b80" stroke-width="0.6"/>
<rect x="1166.4" y="510.8" width="1.1" height="5.6" fill="#9a9ea4"/>
<rect x="1169.2" y="510.8" width="1.1" height="5.6" fill="#8a8e94"/>
<rect x="1175.3" y="510.7" width="5.6" height="5.6" fill="#d9dde2"/>
<rect x="1174.3" y="509.7" width="7.6" height="7.6" fill="none" stroke="#777b80" stroke-width="0.6"/>
<rect x="1184.5" y="510.8" width="1.1" height="5.6" fill="#9a9ea4"/>
<rect x="1187.3" y="510.8" width="1.1" height="5.6" fill="#8a8e94"/>
<rect x="1193.4" y="510.7" width="5.6" height="5.6" fill="#d9dde2"/>
<rect x="1192.4" y="509.7" width="7.6" height="7.6" fill="none" stroke="#777b80" stroke-width="0.6"/>
<rect x="1203.3" y="509.0" width="4.4" height="1.4" fill="#c9ab8e"/>
<rect x="1203.3" y="511.4" width="4.4" height="1.4" fill="#c9ab8e"/>
<rect x="1203.3" y="513.8" width="4.4" height="1.4" fill="#c9ab8e"/>
<rect x="1203.3" y="516.2" width="4.4" height="1.4" fill="#c9ab8e"/>
<rect x="1212.0" y="510.7" width="5.6" height="5.6" fill="#d9dde2"/>
<rect x="1211.0" y="509.7" width="7.6" height="7.6" fill="none" stroke="#777b80" stroke-width="0.6"/>
<rect x="1221.2" y="510.8" width="1.1" height="5.6" fill="#9a9ea4"/>
<rect x="1224.0" y="510.8" width="1.1" height="5.6" fill="#8a8e94"/>
<rect x="1230.1" y="510.7" width="5.6" height="5.6" fill="#d9dde2"/>
<rect x="1229.1" y="509.7" width="7.6" height="7.6" fill="none" stroke="#777b80" stroke-width="0.6"/>
<rect x="1239.3" y="510.8" width="1.1" height="5.6" fill="#9a9ea4"/>
<rect x="1242.1" y="510.8" width="1.1" height="5.6" fill="#8a8e94"/>
<rect x="1248.2" y="510.7" width="5.6" height="5.6" fill="#d9dde2"/>
<rect x="1247.2" y="509.7" width="7.6" height="7.6" fill="none" stroke="#777b80" stroke-width="0.6"/>
<rect x="1258.1" y="509.0" width="4.4" height="1.4" fill="#c9ab8e"/>
<rect x="1258.1" y="511.4" width="4.4" height="1.4" fill="#c9ab8e"/>
<rect x="1258.1" y="513.8" width="4.4" height="1.4" fill="#c9ab8e"/>
<rect x="1258.1" y="516.2" width="4.4" height="1.4" fill="#c9ab8e"/>
<rect x="1266.8" y="510.7" width="5.6" height="5.6" fill="#d9dde2"/>
<rect x="1265.8" y="509.7" width="7.6" height="7.6" fill="none" stroke="#777b80" stroke-width="0.6"/>
<rect x="1276.0" y="510.8" width="1.1" height="5.6" fill="#9a9ea4"/>
<rect x="1278.8" y="510.8" width="1.1" height="5.6" fill="#8a8e94"/>
<rect x="1284.9" y="510.7" width="5.6" height="5.6" fill="#d9dde2"/>
<rect x="1283.9" y="509.7" width="7.6" height="7.6" fill="none" stroke="#777b80" stroke-width="0.6"/>
<rect x="1294.1" y="510.8" width="1.1" height="5.6" fill="#9a9ea4"/>
<rect x="1296.9" y="510.8" width="1.1" height="5.6" fill="#8a8e94"/>
<rect x="1303.0" y="510.7" width="5.6" height="5.6" fill="#d9dde2"/>
<rect x="1302.0" y="509.7" width="7.6" height="7.6" fill="none" stroke="#777b80" stroke-width="0.6"/>
<rect x="1312.9" y="509.0" width="4.4" height="1.4" fill="#c9ab8e"/>
<rect x="1312.9" y="511.4" width="4.4" height="1.4" fill="#c9ab8e"/>
<rect x="1312.9" y="513.8" width="4.4" height="1.4" fill="#c9ab8e"/>
<rect x="1312.9" y="516.2" width="4.4" height="1.4" fill="#c9ab8e"/>
<rect x="1321.6" y="510.7" width="5.6" height="5.6" fill="#d9dde2"/>
<rect x="1320.6" y="509.7" width="7.6" height="7.6" fill="none" stroke="#777b80" stroke-width="0.6"/>
<rect x="1330.8" y="510.8" width="1.1" height="5.6" fill="#9a9ea4"/>
<rect x="1333.6" y="510.8" width="1.1" height="5.6" fill="#8a8e94"/>
<rect x="1339.7" y="510.7" width="5.6" height="5.6" fill="#d9dde2"/>
<rect x="1338.7" y="509.7" width="7.6" height="7.6" fill="none" stroke="#777b80" stroke-width="0.6"/>
<rect x="1348.9" y="510.8" width="1.1" height="5.6" fill="#9a9ea4"/>
<rect x="1351.7" y="510.8" width="1.1" height="5.6" fill="#8a8e94"/>
<rect x="1357.8" y="510.7" width="5.6" height="5.6" fill="#d9dde2"/>
<rect x="1356.8" y="509.7" width="7.6" height="7.6" fill="none" stroke="#777b80" stroke-width="0.6"/>
<rect x="1367.7" y="509.0" width="4.4" height="1.4" fill="#c9ab8e"/>
<rect x="1367.7" y="511.4" width="4.4" height="1.4" fill="#c9ab8e"/>
<rect x="1367.7" y="513.8" width="4.4" height="1.4" fill="#c9ab8e"/>
<rect x="1367.7" y="516.2" width="4.4" height="1.4" fill="#c9ab8e"/>
<path d="M912,306 C925,296 928,285 940,289 C950,293 944,305 932,316 C926,322 926,326 928,330" fill="none" stroke="#1c1c1c" stroke-width="3"/>
<rect x="851.2" y="328.8" width="87.6" height="18" rx="2" fill="#202020"/>
<path d="M877.6,296 H912.4 L920.8,326.4 H870 Z" fill="#2b2b2b"/>
<rect x="870" y="326.4" width="50.8" height="22.8" rx="1.5" fill="#3a3a3a"/>
<rect x="876" y="332.0" width="38" height="1.6" fill="#1b1b1b"/>
<rect x="876" y="335.6" width="38" height="1.6" fill="#1b1b1b"/>
<rect x="876" y="339.2" width="38" height="1.6" fill="#1b1b1b"/>
<rect x="876" y="342.8" width="38" height="1.6" fill="#1b1b1b"/>
<rect x="880" y="303.0" width="30" height="2" fill="#222"/>
<rect x="880" y="307.2" width="30" height="2" fill="#222"/>
<rect x="880" y="311.4" width="30" height="2" fill="#222"/>
<rect x="880" y="315.6" width="30" height="2" fill="#222"/>
<rect x="880" y="319.8" width="30" height="2" fill="#222"/>
<rect x="1110.6" y="297.4" width="150.4" height="90.4" rx="7" fill="#e8ebef" stroke="#26282c" stroke-width="4.8"/>
<rect x="1105" y="333" width="6" height="20" rx="2" fill="#2a2a2a"/>
<rect x="1260" y="336" width="6" height="18" rx="2" fill="#2a2a2a"/>
<rect x="1122.7" y="326" width="61.3" height="11.3" fill="#e01a2a"/>
<rect x="1122.7" y="347.7" width="61.3" height="11.3" fill="#2b2d31"/>
<text x="1143.5" y="334.3" font-size="6.8" font-weight="bold" fill="#fff">Red: +</text>
<text x="1142" y="356" font-size="6.8" font-weight="bold" fill="#fff">Black: -</text>
<path d="M74,710.7 H469.3 L478.7,714.2 L469.3,717.7 H74 Z" fill="#0a0a0a"/>
<rect x="63.7" y="709.0" width="12.1" height="10.4" rx="1.2" fill="#0a0a0a"/>
<rect x="66.7" y="711.6" width="3.5" height="4.3" fill="#f4f4f4"/>
<path d="M74,734.0 H469.3 L478.7,737.5 L469.3,741.0 H74 Z" fill="#0a0a0a"/>
<rect x="63.7" y="732.3" width="12.1" height="10.4" rx="1.2" fill="#0a0a0a"/>
<rect x="66.7" y="734.9" width="3.5" height="4.3" fill="#f4f4f4"/>
<path d="M74,757.4 H469.3 L478.7,760.9 L469.3,764.4 H74 Z" fill="#0a0a0a"/>
<rect x="63.7" y="755.6999999999999" width="12.1" height="10.4" rx="1.2" fill="#0a0a0a"/>
<rect x="66.7" y="758.3" width="3.5" height="4.3" fill="#f4f4f4"/>
<path d="M74,780.8 H469.3 L478.7,784.3 L469.3,787.8 H74 Z" fill="#0a0a0a"/>
<rect x="63.7" y="779.0999999999999" width="12.1" height="10.4" rx="1.2" fill="#0a0a0a"/>
<rect x="66.7" y="781.6999999999999" width="3.5" height="4.3" fill="#f4f4f4"/>
<path d="M69,803.8499999999999 H296.4 L301.5,805.8 L296.4,807.75 H69 Z" fill="#0a0a0a"/>
<rect x="63.2" y="802.9" width="7" height="5.8" rx="0.8" fill="#0a0a0a"/>
<rect x="65" y="804.5" width="2.3" height="2.6" fill="#eee"/>
<path d="M69,817.3499999999999 H296.4 L301.5,819.3 L296.4,821.25 H69 Z" fill="#0a0a0a"/>
<rect x="63.2" y="816.4" width="7" height="5.8" rx="0.8" fill="#0a0a0a"/>
<rect x="65" y="818.0" width="2.3" height="2.6" fill="#eee"/>
<path d="M69,830.9499999999999 H296.4 L301.5,832.9 L296.4,834.85 H69 Z" fill="#0a0a0a"/>
<rect x="63.2" y="830.0" width="7" height="5.8" rx="0.8" fill="#0a0a0a"/>
<rect x="65" y="831.6" width="2.3" height="2.6" fill="#eee"/>
<path d="M69,844.55 H296.4 L301.5,846.5 L296.4,848.45 H69 Z" fill="#0a0a0a"/>
<rect x="63.2" y="843.6" width="7" height="5.8" rx="0.8" fill="#0a0a0a"/>
<rect x="65" y="845.2" width="2.3" height="2.6" fill="#eee"/>
<path d="M69,857.9499999999999 H296.4 L301.5,859.9 L296.4,861.85 H69 Z" fill="#0a0a0a"/>
<rect x="63.2" y="857.0" width="7" height="5.8" rx="0.8" fill="#0a0a0a"/>
<rect x="65" y="858.6" width="2.3" height="2.6" fill="#eee"/>
<path d="M69,871.4499999999999 H296.4 L301.5,873.4 L296.4,875.35 H69 Z" fill="#0a0a0a"/>
<rect x="63.2" y="870.5" width="7" height="5.8" rx="0.8" fill="#0a0a0a"/>
<rect x="65" y="872.1" width="2.3" height="2.6" fill="#eee"/>
<path d="M69,885.05 H296.4 L301.5,887 L296.4,888.95 H69 Z" fill="#0a0a0a"/>
<rect x="63.2" y="884.1" width="7" height="5.8" rx="0.8" fill="#0a0a0a"/>
<rect x="65" y="885.7" width="2.3" height="2.6" fill="#eee"/>
<path d="M69,898.55 H296.4 L301.5,900.5 L296.4,902.45 H69 Z" fill="#0a0a0a"/>
<rect x="63.2" y="897.6" width="7" height="5.8" rx="0.8" fill="#0a0a0a"/>
<rect x="65" y="899.2" width="2.3" height="2.6" fill="#eee"/>
<path d="M69,910.8499999999999 H296.4 L301.5,912.8 L296.4,914.75 H69 Z" fill="#0a0a0a"/>
<rect x="63.2" y="909.9" width="7" height="5.8" rx="0.8" fill="#0a0a0a"/>
<rect x="65" y="911.5" width="2.3" height="2.6" fill="#eee"/>
<path d="M69,924.4499999999999 H296.4 L301.5,926.4 L296.4,928.35 H69 Z" fill="#0a0a0a"/>
<rect x="63.2" y="923.5" width="7" height="5.8" rx="0.8" fill="#0a0a0a"/>
<rect x="65" y="925.1" width="2.3" height="2.6" fill="#eee"/>
<path d="M69,938.05 H296.4 L301.5,940 L296.4,941.95 H69 Z" fill="#0a0a0a"/>
<rect x="63.2" y="937.1" width="7" height="5.8" rx="0.8" fill="#0a0a0a"/>
<rect x="65" y="938.7" width="2.3" height="2.6" fill="#eee"/>
<path d="M69,951.55 H296.4 L301.5,953.5 L296.4,955.45 H69 Z" fill="#0a0a0a"/>
<rect x="63.2" y="950.6" width="7" height="5.8" rx="0.8" fill="#0a0a0a"/>
<rect x="65" y="952.2" width="2.3" height="2.6" fill="#eee"/>
<use href="#screw" x="643.6" y="707.8"/>
<use href="#screw" x="683.6" y="707.8"/>
<use href="#screw" x="722.8" y="707.8"/>
<use href="#screw" x="762.8" y="707.8"/>
<use href="#screw" x="806.7" y="707.8"/>
<use href="#screw" x="846.7" y="707.8"/>
<use href="#screw" x="886.7" y="707.8"/>
<use href="#screw" x="925.6" y="707.8"/>
<use href="#screw" x="643.6" y="771.9"/>
<use href="#screw" x="683.6" y="771.9"/>
<use href="#screw" x="722.8" y="771.9"/>
<use href="#screw" x="762.8" y="771.9"/>
<use href="#screw" x="806.7" y="771.9"/>
<use href="#screw" x="846.7" y="771.9"/>
<use href="#screw" x="886.7" y="771.9"/>
<use href="#screw" x="925.6" y="771.9"/>
<use href="#screw" x="643.6" y="836.0"/>
<use href="#screw" x="683.6" y="836.0"/>
<use href="#screw" x="722.8" y="836.0"/>
<use href="#screw" x="762.8" y="836.0"/>
<use href="#screw" x="806.7" y="836.0"/>
<use href="#screw" x="846.7" y="836.0"/>
<use href="#screw" x="886.7" y="836.0"/>
<use href="#screw" x="925.6" y="836.0"/>
<use href="#screw" x="643.6" y="901.3"/>
<use href="#screw" x="683.6" y="901.3"/>
<use href="#screw" x="722.8" y="901.3"/>
<use href="#screw" x="762.8" y="901.3"/>
<use href="#screw" x="806.7" y="901.3"/>
<use href="#screw" x="846.7" y="901.3"/>
<use href="#screw" x="886.7" y="901.3"/>
<use href="#screw" x="925.6" y="901.3"/>
<use href="#brk" x="1088" y="709.2"/>
<use href="#brk" x="1174.1" y="709.2"/>
<use href="#brk" x="1259.5" y="709.2"/>
<use href="#brk" x="1344.3" y="709.2"/>
<use href="#brk" x="1088" y="743.2"/>
<use href="#brk" x="1174.1" y="743.2"/>
<use href="#brk" x="1259.5" y="743.2"/>
<use href="#brk" x="1344.3" y="743.2"/>
<use href="#brk" x="1088" y="776.9"/>
<use href="#brk" x="1174.1" y="776.9"/>
<use href="#brk" x="1259.5" y="776.9"/>
<use href="#brk" x="1344.3" y="776.9"/>
<use href="#brk" x="1088" y="810.7"/>
<use href="#brk" x="1174.1" y="810.7"/>
<use href="#brk" x="1259.5" y="810.7"/>
<use href="#brk" x="1344.3" y="810.7"/>
<polygon points="20.8,1031.5 67.2,1015.3 1474.8,1015.3 1474.8,1458.3 1416,1479.8 20.8,1479.8" fill="#1f2b4d"/>
<polygon points="20.8,1031.5 67.2,1015.3 1474.8,1015.3 1474.8,1458.3 1416,1479.8 20.8,1479.8" fill="url(#panRad2)"/>
<g clip-path="url(#panClip)">
<rect x="20" y="1015" width="30" height="470" fill="url(#glowL)"/>
<rect x="1445" y="1015" width="30" height="470" fill="url(#glowR)"/>
<rect x="20" y="1440" width="1460" height="40" fill="url(#glowB)"/>
</g>
<path d="M22.5,1032.7 L67.5,1017 H1473" fill="none" stroke="url(#bTop)" stroke-width="3.4"/>
<path d="M22.5,1031 V1478" fill="none" stroke="url(#bLeft)" stroke-width="3.4"/>
<path d="M21,1478 H1415.7 L1473.2,1457.2" fill="none" stroke="url(#bBot)" stroke-width="3.4" stroke-linejoin="miter"/>
<path d="M1473.2,1015.5 V1457.5" fill="none" stroke="url(#bRight)" stroke-width="3.4"/>
<path d="M575,1069 L423,1078 C360,1088 318,1118 309,1168 C304,1200 303,1225 303,1250 C303,1275 304,1300 309,1332 C318,1382 360,1412 439,1423 L575,1431 H1071 L1150,1399 Q1185,1382 1193,1355 Q1199,1325 1199,1250 Q1199,1175 1193,1145 Q1185,1118 1150,1101 L1071,1071 Z" fill="#2a2c31"/>
<path d="M575,1077 L425,1086 C366,1096 328,1124 318,1172 C313,1202 312,1226 312,1250 C312,1274 313,1298 318,1328 C328,1376 366,1404 441,1415 L575,1423 H1071 L1146,1392 Q1176,1376 1184,1352 Q1190,1322 1190,1250 Q1190,1178 1184,1148 Q1176,1124 1146,1108 L1071,1079 Z" fill="#bfc4cf"/>
<path d="M1071,1071 L1150,1101 Q1185,1118 1193,1145 Q1199,1175 1199,1250 Q1199,1325 1193,1355 Q1185,1382 1150,1399 L1071,1429 L1071,1424 L1146,1394 Q1178,1378 1186,1352 Q1191,1322 1191,1250 Q1191,1178 1186,1148 Q1178,1122 1146,1106 L1071,1076 Z" fill="#bfc3cd"/>
<path d="M1150,1103 Q1185,1120 1193,1146 Q1199,1176 1199,1250 Q1199,1324 1193,1354 Q1185,1380 1150,1397 L1146,1388 Q1174,1372 1181,1350 Q1186,1322 1186,1250 Q1186,1178 1181,1150 Q1174,1128 1146,1112 Z" fill="#c6cad3"/>
<path d="M1072,1079 L1146,1108 L1141,1120 L1072,1093 Z" fill="#2b2d32"/>
<path d="M1072,1421 L1146,1392 L1141,1380 L1072,1407 Z" fill="#2b2d32"/>
<path d="M568,1070 L940,1071 L1072,1072 V1079 L940,1081 L568,1086 Z" fill="#d6d9e0"/>
<path d="M568,1426 H940 L1072,1424 V1430 L940,1432 H568 Z" fill="#9ea4b0"/>
<path d="M575,1085 L940,1081 V1098 H575 Z" fill="#33353b"/>
<path d="M575,1410 H940 L1072,1412 V1426 L940,1430 H575 Z" fill="#292b30"/>
<path d="M692,1075 Q698,1060 711,1057 Q718,1059 715,1068 L707,1076 Z" fill="#d9dce3"/>
<rect x="578" y="1098" width="335" height="312" fill="url(#speck)"/>
<rect x="578" y="1118" width="335" height="52" fill="#a2a9b8" opacity="0.35"/>
<rect x="578" y="1336" width="335" height="46" fill="#a2a9b8" opacity="0.35"/>
<rect x="582" y="1168" width="325" height="4" fill="#5f6676"/>
<rect x="582" y="1333" width="325" height="4" fill="#5f6676"/>
<rect x="866" y="1120" width="46" height="260" fill="#949cae" opacity="0.5"/>
<rect x="606" y="1181" width="284" height="12" rx="2" fill="#30323a"/>
<rect x="632" y="1184.5" width="3" height="5" rx="1.5" fill="#6f7684"/>
<rect x="657" y="1184.5" width="3" height="5" rx="1.5" fill="#6f7684"/>
<rect x="667" y="1184.5" width="3" height="5" rx="1.5" fill="#6f7684"/>
<rect x="678" y="1184.5" width="3" height="5" rx="1.5" fill="#6f7684"/>
<rect x="690" y="1184.5" width="3" height="5" rx="1.5" fill="#6f7684"/>
<rect x="700" y="1184.5" width="3" height="5" rx="1.5" fill="#6f7684"/>
<rect x="745" y="1184.5" width="3" height="5" rx="1.5" fill="#6f7684"/>
<rect x="755" y="1184.5" width="3" height="5" rx="1.5" fill="#6f7684"/>
<rect x="766" y="1184.5" width="3" height="5" rx="1.5" fill="#6f7684"/>
<rect x="788" y="1184.5" width="3" height="5" rx="1.5" fill="#6f7684"/>
<rect x="805" y="1184.5" width="3" height="5" rx="1.5" fill="#6f7684"/>
<rect x="815" y="1184.5" width="3" height="5" rx="1.5" fill="#6f7684"/>
<rect x="835" y="1184.5" width="3" height="5" rx="1.5" fill="#6f7684"/>
<rect x="849" y="1184.5" width="3" height="5" rx="1.5" fill="#6f7684"/>
<rect x="855" y="1184.5" width="3" height="5" rx="1.5" fill="#6f7684"/>
<circle cx="713" cy="1142" r="5" fill="#26282d"/><circle cx="713" cy="1142" r="2" fill="#8a92a3"/>
<circle cx="843" cy="1141" r="5" fill="#26282d"/><circle cx="843" cy="1141" r="2" fill="#8a92a3"/>
<circle cx="713" cy="1363" r="5" fill="#26282d"/><circle cx="713" cy="1363" r="2" fill="#8a92a3"/>
<circle cx="843" cy="1364" r="5" fill="#26282d"/><circle cx="843" cy="1364" r="2" fill="#8a92a3"/>
<circle cx="845" cy="1198" r="5" fill="#26282d"/><circle cx="845" cy="1198" r="2" fill="#8a92a3"/>
<circle cx="845" cy="1310" r="5" fill="#26282d"/><circle cx="845" cy="1310" r="2" fill="#8a92a3"/>
<circle cx="625" cy="1171" r="2.3" fill="#26282d"/>
<circle cx="692" cy="1171" r="2.3" fill="#26282d"/>
<circle cx="755" cy="1171" r="2.3" fill="#26282d"/>
<circle cx="823" cy="1171" r="2.3" fill="#26282d"/>
<circle cx="625" cy="1335" r="2.3" fill="#26282d"/>
<circle cx="692" cy="1335" r="2.3" fill="#26282d"/>
<circle cx="755" cy="1335" r="2.3" fill="#26282d"/>
<circle cx="823" cy="1335" r="2.3" fill="#26282d"/>
<path d="M637,1136 H692" stroke="#596070" stroke-width="2.5"/><path d="M637,1368 H692" stroke="#596070" stroke-width="2.5"/>
<path d="M826,1141 H838" stroke="#26282d" stroke-width="2"/><path d="M826,1364 H838" stroke="#26282d" stroke-width="2"/>
<path d="M578,1196 H910 V1330 H578 Z" fill="#6f778b"/>
<path d="M578,1196 Q700,1200 780,1222 L870,1228 V1200 H578 Z" fill="#858da0"/>
<path d="M880,1236 H910 V1200 H880 Z" fill="#7a8397" opacity="0.6"/>
<path d="M620,1219 Q690,1214 750,1225 L800,1232 V1282 L750,1284 Q690,1292 620,1286 Z" fill="#3c414c"/>
<path d="M578,1312 Q700,1318 760,1306 L800,1290 H880 V1330 H578 Z" fill="#868ea1"/>
<path d="M572,1224 H640 V1281 H572 Z" fill="#8f8a86"/>
<rect x="642" y="1229.7" width="48" height="41" rx="6" fill="#9b9691"/>
<rect x="642" y="1231" width="48" height="14" rx="5" fill="#b3aea9" opacity="0.7"/>
<rect x="690" y="1244" width="12" height="14" fill="#77716c"/>
<rect x="575.7" y="1240" width="54.3" height="26" rx="2" fill="#1f1f21"/>
<path d="M699,1224 Q710,1217 716,1225 V1284 Q710,1292 699,1286 Q706,1256 699,1224 Z" fill="#7d746f"/>
<path d="M574,1300 Q600,1296 630,1298 Q690,1303 712,1296 Q735,1288 752,1265" fill="none" stroke="#4a4340" stroke-width="24" stroke-linecap="round"/>
<path d="M574,1298 Q600,1294 630,1296 Q690,1301 712,1294 Q735,1286 752,1263" fill="none" stroke="#6d645f" stroke-width="17" stroke-linecap="round"/>
<path d="M576,1293 Q600,1289 630,1291 Q690,1296 712,1289 Q733,1281 748,1260" fill="none" stroke="#8a817b" stroke-width="4" stroke-linecap="round" opacity="0.9"/>
<path d="M742,1250 Q750,1234 770,1234 H790 Q800,1236 800,1248 V1262 Q800,1274 788,1274 H760 Q742,1272 742,1262 Z" fill="#6c635e"/>
<path d="M744,1247 Q752,1236 770,1236 H790 Q798,1238 798,1246 Z" fill="#857c76" opacity="0.9"/>
<path d="M870,1230 H990 M870,1280 H990 M880,1232 L990,1278 M880,1278 L990,1232" stroke="#3f424a" stroke-width="4"/>
<path d="M800,1254.6 H905" stroke="#4f4844" stroke-width="15"/>
<path d="M800,1252 H905" stroke="#7c736d" stroke-width="6"/>
<rect x="870" y="1222" width="8" height="64" fill="#514c49"/>
<rect x="855" y="1224" width="4" height="60" fill="#5b5652"/>
<path d="M419,1078 L578,1070 V1172 H486 L430,1172 Q425,1120 419,1078 Z" fill="#17181b"/>
<path d="M435,1424 L578,1432 V1334 H486 L430,1334 Q428,1380 435,1424 Z" fill="#17181b"/>
<path d="M343,1119 Q378,1102 419,1086 L428,1172 H351 Q340,1150 343,1119 Z" fill="#b3b9c5"/>
<path d="M343,1382 Q378,1398 435,1414 L430,1334 H351 Q340,1355 343,1382 Z" fill="#b3b9c5"/>
<path d="M380,1104 L412,1094 L420,1165 L388,1160 Z" fill="#cdd2dc" opacity="0.8"/>
<path d="M380,1400 L420,1410 L420,1342 L388,1345 Z" fill="#cdd2dc" opacity="0.8"/>
<rect x="486" y="1165" width="94" height="172" fill="#2c2d32"/>
<rect x="488" y="1172" width="18" height="160" fill="#26272b"/>
<path d="M489,1175 L505,1185 L489,1195" stroke="#45474d" stroke-width="2" fill="none"/>
<path d="M489,1195 L505,1205 L489,1215" stroke="#45474d" stroke-width="2" fill="none"/>
<path d="M489,1215 L505,1225 L489,1235" stroke="#45474d" stroke-width="2" fill="none"/>
<path d="M489,1235 L505,1245 L489,1255" stroke="#45474d" stroke-width="2" fill="none"/>
<path d="M489,1255 L505,1265 L489,1275" stroke="#45474d" stroke-width="2" fill="none"/>
<path d="M489,1275 L505,1285 L489,1295" stroke="#45474d" stroke-width="2" fill="none"/>
<path d="M489,1295 L505,1305 L489,1315" stroke="#45474d" stroke-width="2" fill="none"/>
<path d="M489,1315 L505,1325 L489,1335" stroke="#45474d" stroke-width="2" fill="none"/>
<path d="M489,1172 V1332 M505,1172 V1332" stroke="#4a4c52" stroke-width="2"/>
<path d="M512,1176 L550,1218 M512,1330 L550,1288" stroke="#5a5c62" stroke-width="3.5"/>
<path d="M558,1112 Q548,1170 552,1250 Q548,1330 558,1392" stroke="#66676c" stroke-width="17" fill="none"/>
<path d="M562,1112 Q552,1170 556,1250 Q552,1330 562,1392" stroke="#85868b" stroke-width="4" fill="none"/>
<rect x="511.6" y="1213.7" width="40" height="74.3" rx="6" fill="#29292b"/>
<rect x="514" y="1218" width="10" height="66" rx="4" fill="#323234"/>
<path d="M478,1122 V1172 M496,1122 L500,1180" stroke="#6c6e75" stroke-width="4"/>
<path d="M478,1378 V1334 M496,1380 L500,1326" stroke="#6c6e75" stroke-width="4"/>
<path d="M503,1128 Q525,1160 570,1167" stroke="#76787e" stroke-width="8" fill="none"/>
<path d="M503,1374 Q525,1343 570,1338" stroke="#76787e" stroke-width="8" fill="none"/>
<rect x="350.4" y="1182.5" width="24" height="143.5" rx="6" fill="#2a2b2e"/>
<rect x="373" y="1174" width="113" height="157.6" rx="5" fill="#2d2e31"/>
<rect x="376.0" y="1184" width="108.0" height="2.6" fill="#18181a"/>
<rect x="376.0" y="1186.6" width="108.0" height="1.2" fill="#3b3c40"/>
<rect x="424.6" y="1199" width="59.4" height="2.6" fill="#18181a"/>
<rect x="424.6" y="1201.6" width="59.4" height="1.2" fill="#3b3c40"/>
<rect x="376.0" y="1214" width="108.0" height="2.6" fill="#18181a"/>
<rect x="376.0" y="1216.6" width="108.0" height="1.2" fill="#3b3c40"/>
<rect x="424.6" y="1229" width="59.4" height="2.6" fill="#18181a"/>
<rect x="424.6" y="1231.6" width="59.4" height="1.2" fill="#3b3c40"/>
<rect x="376.0" y="1244" width="108.0" height="2.6" fill="#18181a"/>
<rect x="376.0" y="1246.6" width="108.0" height="1.2" fill="#3b3c40"/>
<rect x="376.0" y="1259" width="108.0" height="2.6" fill="#18181a"/>
<rect x="376.0" y="1261.6" width="108.0" height="1.2" fill="#3b3c40"/>
<rect x="419.2" y="1274" width="64.8" height="2.6" fill="#18181a"/>
<rect x="419.2" y="1276.6" width="64.8" height="1.2" fill="#3b3c40"/>
<rect x="376.0" y="1289" width="108.0" height="2.6" fill="#18181a"/>
<rect x="376.0" y="1291.6" width="108.0" height="1.2" fill="#3b3c40"/>
<rect x="419.2" y="1304" width="64.8" height="2.6" fill="#18181a"/>
<rect x="419.2" y="1306.6" width="64.8" height="1.2" fill="#3b3c40"/>
<rect x="376.0" y="1319" width="108.0" height="2.6" fill="#18181a"/>
<rect x="376.0" y="1321.6" width="108.0" height="1.2" fill="#3b3c40"/>
<rect x="434" y="1174" width="2.6" height="60" fill="#18181a"/>
<rect x="340" y="1170" width="10" height="165" fill="#b9bec9"/>
<path d="M306,1180 Q302,1250 306,1320 L318,1320 Q315,1250 318,1180 Z" fill="#26282c"/>
<rect x="905" y="1098" width="45" height="312" fill="#858d9f"/>
<path d="M940,1120 H1072 L1146,1120 V1385 H1072 L940,1385 Z" fill="#7b8293"/>
<path d="M932,1078 L1072,1079 L1088,1120 L1080,1168 L1040,1172 H932 Z" fill="#26272c"/>
<path d="M932,1424 L1072,1421 L1088,1380 L1080,1334 L1040,1330 H932 Z" fill="#26272c"/>
<path d="M940,1165 L990,1128 M975,1170 L1000,1125 M1035,1168 L1040,1125" stroke="#5d5f66" stroke-width="4"/>
<path d="M940,1337 L990,1374 M975,1332 L1000,1377 M1035,1334 L1040,1377" stroke="#5d5f66" stroke-width="4"/>
<circle cx="945" cy="1160" r="6" fill="#3a3b40"/><circle cx="945" cy="1342" r="6" fill="#3a3b40"/>
<rect x="955" y="1170" width="14" height="165" fill="#3a3b41"/>
<rect x="1025" y="1170" width="12" height="165" fill="#3a3b41"/>
<rect x="969" y="1185" width="56" height="130" fill="#667080"/>
<rect x="958" y="1236" width="70" height="28" rx="3" fill="#2a2b2f"/>
<rect x="962" y="1238.5" width="62" height="1.4" fill="#4f5157"/>
<rect x="962" y="1242.7" width="62" height="1.4" fill="#4f5157"/>
<rect x="962" y="1246.9" width="62" height="1.4" fill="#4f5157"/>
<rect x="962" y="1251.1" width="62" height="1.4" fill="#4f5157"/>
<rect x="962" y="1255.3" width="62" height="1.4" fill="#4f5157"/>
<rect x="962" y="1259.5" width="62" height="1.4" fill="#4f5157"/>
<rect x="990" y="1215" width="30" height="21" fill="#34363c"/>
<rect x="990" y="1264" width="30" height="30" fill="#34363c"/>
<rect x="936" y="1242" width="22" height="14" rx="3" fill="#4a4c52"/>
<path d="M1061,1215 Q1063,1196 1090,1194 H1136 Q1149,1196 1149,1214 V1360 Q1147,1374 1132,1374 H1088 Q1064,1372 1061,1352 Z" fill="#26272a"/>
<path d="M1063,1225 Q1090,1215 1120,1222 V1360 H1063 Z" fill="#2c2d31" opacity="0.9"/>
<circle cx="1130" cy="1228.0" r="2.2" fill="#111112"/><circle cx="1105" cy="1237.0" r="2.2" fill="#111112"/>
<path d="M1066,1244.0 H1118 Q1124,1244.0 1124,1238.0" stroke="#37383d" stroke-width="2" fill="none"/>
<circle cx="1130" cy="1247.0" r="2.2" fill="#111112"/><circle cx="1105" cy="1256.0" r="2.2" fill="#111112"/>
<path d="M1066,1263.0 H1118 Q1124,1263.0 1124,1257.0" stroke="#37383d" stroke-width="2" fill="none"/>
<circle cx="1130" cy="1266.0" r="2.2" fill="#111112"/><circle cx="1105" cy="1275.0" r="2.2" fill="#111112"/>
<path d="M1066,1282.0 H1118 Q1124,1282.0 1124,1276.0" stroke="#37383d" stroke-width="2" fill="none"/>
<circle cx="1130" cy="1285.0" r="2.2" fill="#111112"/><circle cx="1105" cy="1294.0" r="2.2" fill="#111112"/>
<path d="M1066,1301.0 H1118 Q1124,1301.0 1124,1295.0" stroke="#37383d" stroke-width="2" fill="none"/>
<circle cx="1130" cy="1304.0" r="2.2" fill="#111112"/><circle cx="1105" cy="1313.0" r="2.2" fill="#111112"/>
<path d="M1066,1320.0 H1118 Q1124,1320.0 1124,1314.0" stroke="#37383d" stroke-width="2" fill="none"/>
<circle cx="1130" cy="1323.0" r="2.2" fill="#111112"/><circle cx="1105" cy="1332.0" r="2.2" fill="#111112"/>
<path d="M1066,1339.0 H1118 Q1124,1339.0 1124,1333.0" stroke="#37383d" stroke-width="2" fill="none"/>
<circle cx="1130" cy="1342.0" r="2.2" fill="#111112"/><circle cx="1105" cy="1351.0" r="2.2" fill="#111112"/>
<path d="M1066,1358.0 H1118 Q1124,1358.0 1124,1352.0" stroke="#37383d" stroke-width="2" fill="none"/>
<path d="M898,1252 Q916,1252 926,1236 L944,1212 M898,1258 Q916,1258 926,1272 L944,1298" fill="none" stroke="#625954" stroke-width="7"/>
<g transform="translate(923,1203) rotate(38)"><rect x="-18" y="-23" width="36" height="46" rx="4" fill="#756c66"/><rect x="-18" y="-23" width="36" height="11" rx="3" fill="#958c86" opacity="0.8"/></g>
<g transform="translate(923,1305) rotate(-38)"><rect x="-18" y="-23" width="36" height="46" rx="4" fill="#726963"/><rect x="-18" y="12" width="36" height="11" rx="3" fill="#5a524d" opacity="0.8"/></g>
<path d="M950,1196 Q968,1185 990,1192 L1035,1212 Q1055,1218 1068,1196 Q1078,1180 1085,1172" fill="none" stroke="#6e6661" stroke-width="5"/>
<path d="M950,1316 Q975,1327 1000,1316 L1038,1292 Q1056,1276 1054,1250 Q1050,1225 1068,1208 Q1080,1198 1092,1190" fill="none" stroke="#6e6661" stroke-width="5"/>
<g transform="translate(1107,1165) rotate(-29)"><rect x="-33" y="-26" width="66" height="52" rx="6" fill="#716862"/><rect x="-33" y="-26" width="66" height="14" rx="5" fill="#8f8680" opacity="0.85"/><rect x="-33" y="16" width="66" height="10" rx="4" fill="#554e4a" opacity="0.8"/></g>
<rect x="1137.6" y="1134.7" width="45.4" height="16.6" rx="8" fill="#a3a6ad"/>
<rect x="1160" y="1136" width="16" height="13" rx="5" fill="#c3c6cc"/>
<path d="M1072,1079 L1146,1108 L1141,1120 L1072,1093 Z" fill="#2b2d32"/>
<path d="M1068,1430 L1148,1400 L1144,1388 L1068,1416 Z" fill="#2a2c31"/>
<path d="M1072,1412 L1142,1386 V1374 H1072 Z" fill="#b3b8c3"/>
<rect x="435" y="1063.5" width="132.29999999999995" height="57.5" rx="16" ry="16.0" fill="#171718"/>
<rect x="438" y="1065.5" width="126.29999999999995" height="53.5" rx="14" ry="15.1" fill="url(#treadTex)"/>
<rect x="439" y="1073.9" width="124.29999999999995" height="2.2" fill="#0b0b0c"/>
<rect x="439" y="1085.4" width="124.29999999999995" height="2.2" fill="#0b0b0c"/>
<rect x="439" y="1096.9" width="124.29999999999995" height="2.2" fill="#0b0b0c"/>
<rect x="439" y="1108.4" width="124.29999999999995" height="2.2" fill="#0b0b0c"/>
<rect x="435" y="1063.5" width="132.29999999999995" height="57.5" rx="16" ry="16.0" fill="url(#tireShade)"/>
<rect x="455" y="1119" width="92" height="7" rx="3" fill="#55575c"/>
<rect x="439" y="1376" width="126.5" height="67.20000000000005" rx="16" ry="18.7" fill="#171718"/>
<rect x="442" y="1378" width="120.5" height="63.200000000000045" rx="14" ry="17.7" fill="url(#treadTex)"/>
<rect x="443" y="1388.3" width="118.5" height="2.2" fill="#0b0b0c"/>
<rect x="443" y="1401.8" width="118.5" height="2.2" fill="#0b0b0c"/>
<rect x="443" y="1415.2" width="118.5" height="2.2" fill="#0b0b0c"/>
<rect x="443" y="1428.7" width="118.5" height="2.2" fill="#0b0b0c"/>
<rect x="439" y="1376" width="126.5" height="67.20000000000005" rx="16" ry="18.7" fill="url(#tireShade)"/>
<path d="M462,1380 Q502,1392 542,1380" stroke="#77787d" stroke-width="2" fill="none"/>
<rect x="941.3" y="1063.4" width="130.20000000000005" height="64.09999999999991" rx="16" ry="17.8" fill="#171718"/>
<rect x="944.3" y="1065.4" width="124.20000000000005" height="60.09999999999991" rx="14" ry="16.9" fill="url(#treadTex)"/>
<rect x="945.3" y="1075.1" width="122.20000000000005" height="2.2" fill="#0b0b0c"/>
<rect x="945.3" y="1087.9" width="122.20000000000005" height="2.2" fill="#0b0b0c"/>
<rect x="945.3" y="1100.8" width="122.20000000000005" height="2.2" fill="#0b0b0c"/>
<rect x="945.3" y="1113.6" width="122.20000000000005" height="2.2" fill="#0b0b0c"/>
<rect x="941.3" y="1063.4" width="130.20000000000005" height="64.09999999999991" rx="16" ry="17.8" fill="url(#tireShade)"/>
<rect x="938.2" y="1374" width="127.09999999999991" height="68.20000000000005" rx="16" ry="18.9" fill="#171718"/>
<rect x="941.2" y="1376" width="121.09999999999991" height="64.20000000000005" rx="14" ry="17.9" fill="url(#treadTex)"/>
<rect x="942.2" y="1386.5" width="119.09999999999991" height="2.2" fill="#0b0b0c"/>
<rect x="942.2" y="1400.2" width="119.09999999999991" height="2.2" fill="#0b0b0c"/>
<rect x="942.2" y="1413.8" width="119.09999999999991" height="2.2" fill="#0b0b0c"/>
<rect x="942.2" y="1427.5" width="119.09999999999991" height="2.2" fill="#0b0b0c"/>
<rect x="938.2" y="1374" width="127.09999999999991" height="68.20000000000005" rx="16" ry="18.9" fill="url(#tireShade)"/>
<path d="M962,1378 Q1001,1390 1040,1378" stroke="#77787d" stroke-width="2" fill="none"/>
<rect x="319.4" y="1145.9" width="20.5" height="217.6" fill="#dc1430"/>
<rect x="593.6" y="1101" width="314.4" height="20.2" fill="#dc1430"/>
<rect x="593.6" y="1380.5" width="314.4" height="20.5" fill="#dc1430"/>
<rect x="1157.3" y="1146" width="19.7" height="216.6" fill="#dc1430"/>
<path d="M328.4,1146 V1129 Q328.4,1120.5 337,1120.5 H363 Q372,1120.5 372,1129 V1160.5 Q372,1169.2 381,1169.2 H475 Q484,1169.2 484,1178 V1225" fill="none" stroke="#f2e62c" stroke-width="4.6" stroke-linejoin="round"/>
<path d="M503.3,1225 V1178 Q503.3,1169.2 512,1169.2 H568 Q577,1169.2 577,1160 V1117 Q577,1108.8 585,1108.8 H594" fill="none" stroke="#f2e62c" stroke-width="4.6" stroke-linejoin="round"/>
<path d="M328.4,1363 V1381 Q328.4,1390 337,1390 H363 Q372,1390 372,1381 V1344 Q372,1335.5 381,1335.5 H568 Q577,1335.5 577,1344 V1381 Q577,1390 585,1390 H594" fill="none" stroke="#f2e62c" stroke-width="4.6" stroke-linejoin="round"/>
<path d="M908,1110 H915 Q924.5,1110 924.5,1119 V1161 Q924.5,1170 933,1170 H1127 Q1135.6,1170 1135.6,1161 V1130 Q1135.6,1121.3 1144,1121.3 H1159 Q1167.5,1121.3 1167.5,1130 V1146" fill="none" stroke="#f2e62c" stroke-width="4.6" stroke-linejoin="round"/>
<rect x="474.9" y="1224.9" width="37.8" height="56" rx="3.5" fill="#52ad4a"/>
<path d="M499,1233.5 L483.5,1253 L493,1254.5 L490.5,1273 L503.5,1251.5 L495,1250.5 Z" fill="#fff"/>
</svg>
</body></html>
